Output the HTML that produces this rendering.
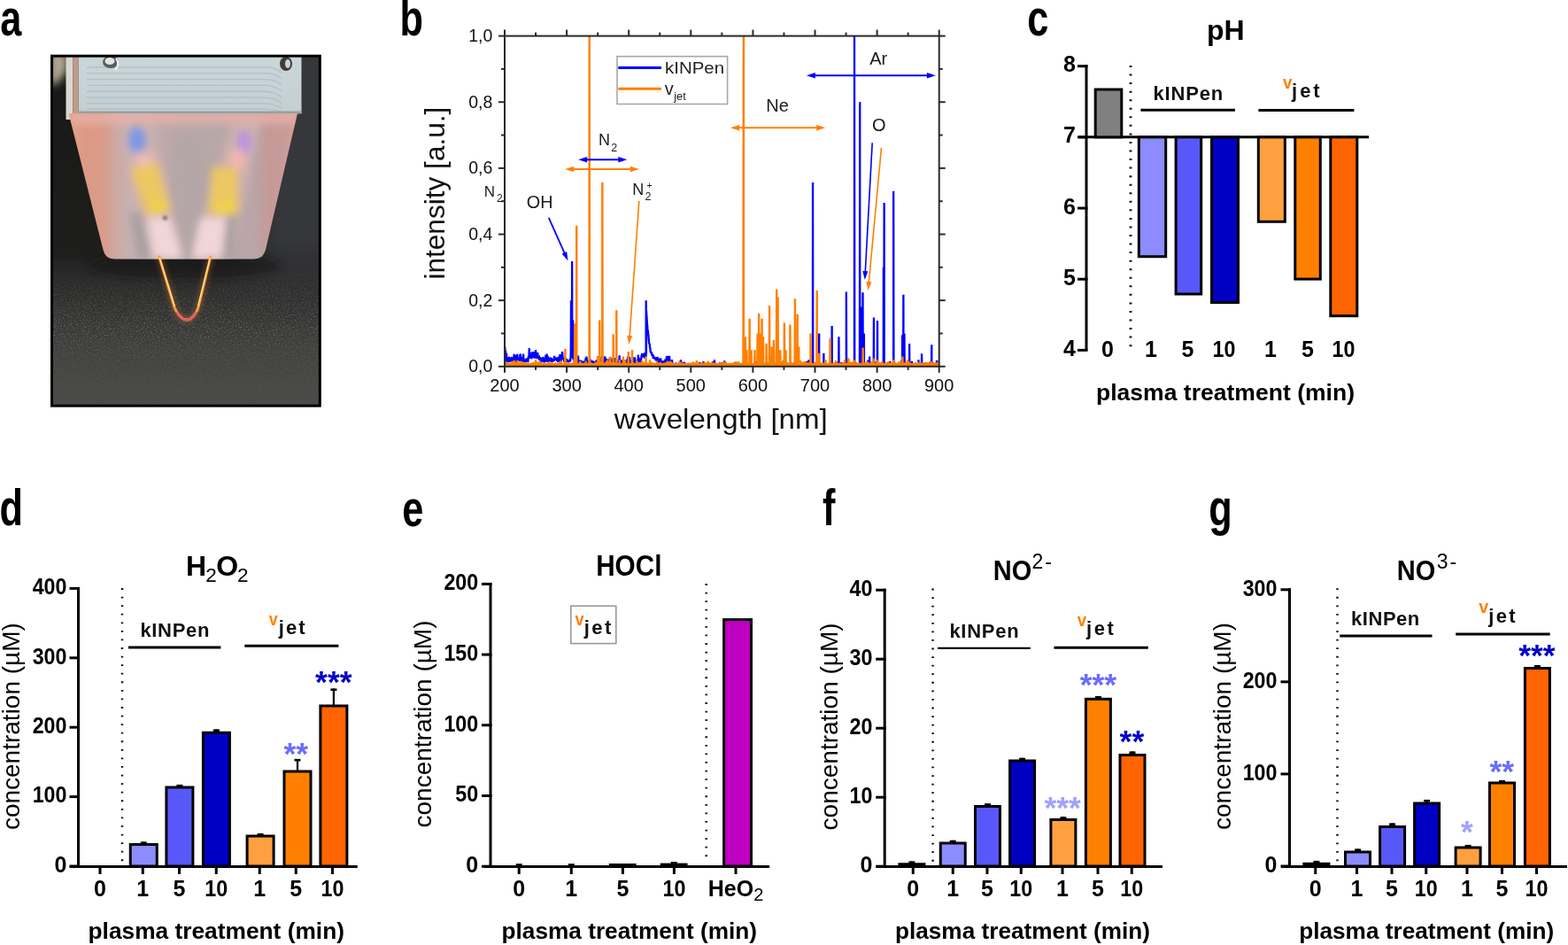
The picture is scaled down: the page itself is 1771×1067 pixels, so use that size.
<!DOCTYPE html>
<html><head><meta charset="utf-8"><title>Figure</title>
<style>html,body{margin:0;padding:0;background:#fff;}svg{display:block;}</style></head>
<body><svg width="1771" height="1067" viewBox="0 0 1771 1067" style="font-family:'Liberation Sans', Arial, sans-serif">
<rect width="1771" height="1067" fill="#fff"/>
<text transform="translate(0.20,40.00) scale(0.76,1)" font-size="57" font-weight="bold">a</text>
<text transform="translate(451.50,40.00) scale(0.76,1)" font-size="57" font-weight="bold">b</text>
<text transform="translate(1160.30,40.00) scale(0.76,1)" font-size="57" font-weight="bold">c</text>
<text transform="translate(-0.50,593.00) scale(0.76,1)" font-size="57" font-weight="bold">d</text>
<text transform="translate(454.20,593.50) scale(0.76,1)" font-size="57" font-weight="bold">e</text>
<text transform="translate(929.00,593.00) scale(0.76,1)" font-size="57" font-weight="bold">f</text>
<text transform="translate(1365.30,593.00) scale(0.76,1)" font-size="57" font-weight="bold">g</text>
<defs>
<clipPath id="phclip"><rect x="59.5" y="64" width="301.5" height="394"/></clipPath>
<clipPath id="trapclip"><path d="M77.5,128 L336,128 L300,282 Q297,292.5 287,292.5 L129,292.5 Q119,292.5 116.5,282 Z"/></clipPath>
<linearGradient id="phbg" x1="0" y1="64" x2="0" y2="458" gradientUnits="userSpaceOnUse">
<stop offset="0" stop-color="#171715"/><stop offset="0.57" stop-color="#1e1e1c"/><stop offset="0.6" stop-color="#262626"/><stop offset="0.68" stop-color="#2d2d2c"/><stop offset="0.75" stop-color="#353533"/><stop offset="0.85" stop-color="#41413f"/><stop offset="0.95" stop-color="#494946"/><stop offset="1" stop-color="#4a4a47"/>
</linearGradient>
<linearGradient id="trap" x1="77" y1="0" x2="336" y2="0" gradientUnits="userSpaceOnUse">
<stop offset="0" stop-color="#e8a088"/><stop offset="0.07" stop-color="#dc9a84"/><stop offset="0.158" stop-color="#d89c88"/><stop offset="0.205" stop-color="#cea8a2"/><stop offset="0.263" stop-color="#c8b0b2"/><stop offset="0.475" stop-color="#b9a8a9"/><stop offset="0.61" stop-color="#b9a8a9"/><stop offset="0.80" stop-color="#b8a6a8"/><stop offset="0.88" stop-color="#c49a98"/><stop offset="0.946" stop-color="#c89c98"/><stop offset="1" stop-color="#d6a092"/>
</linearGradient>
<linearGradient id="blk" x1="0" y1="0" x2="0" y2="1">
<stop offset="0" stop-color="#cad6da"/><stop offset="1" stop-color="#c2cfd3"/>
</linearGradient>
<linearGradient id="noisefade" x1="0" y1="300" x2="0" y2="458" gradientUnits="userSpaceOnUse">
<stop offset="0" stop-color="#fff" stop-opacity="0"/><stop offset="0.2" stop-color="#fff" stop-opacity="0.6"/><stop offset="0.45" stop-color="#fff" stop-opacity="1"/><stop offset="0.7" stop-color="#fff" stop-opacity="0.4"/><stop offset="1" stop-color="#fff" stop-opacity="0.1"/>
</linearGradient>
<linearGradient id="rside" x1="59" y1="0" x2="361" y2="0" gradientUnits="userSpaceOnUse">
<stop offset="0" stop-color="#36373b" stop-opacity="0"/><stop offset="0.62" stop-color="#36373b" stop-opacity="0"/><stop offset="0.85" stop-color="#36373b" stop-opacity="1"/><stop offset="1" stop-color="#36373b" stop-opacity="1"/>
</linearGradient>
<linearGradient id="rfade" x1="0" y1="64" x2="0" y2="360" gradientUnits="userSpaceOnUse">
<stop offset="0" stop-color="#fff" stop-opacity="1"/><stop offset="0.7" stop-color="#fff" stop-opacity="1"/><stop offset="1" stop-color="#fff" stop-opacity="0"/>
</linearGradient>
<mask id="rmask"><rect x="59" y="64" width="302" height="296" fill="url(#rfade)"/></mask>
<mask id="nmask"><rect x="59" y="300" width="302" height="158" fill="url(#noisefade)"/></mask>
<filter id="bl6" x="-50%" y="-50%" width="200%" height="200%"><feGaussianBlur stdDeviation="5"/></filter>
<filter id="bl4" x="-50%" y="-50%" width="200%" height="200%"><feGaussianBlur stdDeviation="5"/></filter>
<filter id="bl3" x="-50%" y="-50%" width="200%" height="200%"><feGaussianBlur stdDeviation="3"/></filter>
<filter id="bl2" x="-50%" y="-50%" width="200%" height="200%"><feGaussianBlur stdDeviation="1.6"/></filter>
<filter id="noise" x="0" y="0" width="100%" height="100%"><feTurbulence type="fractalNoise" baseFrequency="0.65" numOctaves="2" seed="3"/><feColorMatrix type="matrix" values="0 0 0 0 0.62  0 0 0 0 0.62  0 0 0 0 0.6  0 0 0 2.2 -1.05"/></filter>
</defs>
<g clip-path="url(#phclip)">
<rect x="59.5" y="64" width="301.5" height="394" fill="url(#phbg)"/>
<rect x="59.5" y="64" width="301.5" height="296" fill="url(#rside)" mask="url(#rmask)"/>
<g mask="url(#nmask)"><rect x="59.5" y="300" width="301.5" height="158" filter="url(#noise)" opacity="0.4"/></g>
<ellipse cx="208" cy="300" rx="110" ry="14" fill="#141414" opacity="0.6" filter="url(#bl6)"/>
<!-- top-left light -->
<path d="M56,58 L76,58 L76,80 L64,95 L56,95 Z" fill="#b0a690" filter="url(#bl4)"/>
<rect x="74.5" y="64" width="8" height="71" fill="#d5d9d2"/>
<rect x="82.5" y="64" width="6" height="66" fill="#c39a88"/>
<!-- grey block -->
<rect x="88.5" y="64" width="252" height="64" fill="url(#blk)"/>
<g stroke="#b3c0c5" stroke-width="1.4" fill="none">
<path d="M98,76 L300,76 Q312,76 318,82"/><path d="M98,82.8 L300,82.8 Q312,83 318,89"/><path d="M98,89.6 L300,89.6 Q312,90 318,96"/>
<path d="M98,96.4 L300,96.4 Q312,97 318,103"/><path d="M98,103.2 L300,103.2 Q312,104 318,110"/><path d="M98,110 L300,110 Q312,111 318,117"/>
<path d="M98,116.8 L300,116.8 Q312,118 318,123"/><path d="M98,123 L300,123 Q312,124 318,127"/>
</g>
<rect x="88.5" y="125.5" width="252" height="3" fill="#9aa09d"/>
<ellipse cx="125" cy="70" rx="9" ry="7" fill="#5a5d5a"/><ellipse cx="124" cy="69" rx="5.5" ry="4" fill="#e4e6e3"/><path d="M131,66 Q136,72 130,79" stroke="#f4f4f2" stroke-width="2" fill="none"/>
<ellipse cx="323" cy="72" rx="7" ry="8" fill="#3c3e3c"/><ellipse cx="325" cy="72" rx="3" ry="5" fill="#d0d2d0"/>
<!-- trapezoid -->
<path d="M77.5,128 L336,128 L300,282 Q297,292.5 287,292.5 L129,292.5 Q119,292.5 116.5,282 Z" fill="url(#trap)"/>
<g clip-path="url(#trapclip)">
<g filter="url(#bl6)">
<rect x="80" y="126" width="256" height="14" fill="#eab2aa" opacity="0.8"/>
<path d="M196,150 L232,150 L234,292 L198,292 Z" fill="#b3a5a7" opacity="0.75"/>
<path d="M138,140 L172,140 L207,292 L158,292 Z" fill="#cfb3b0" opacity="0.9"/>
<path d="M262,140 L294,140 L262,292 L216,292 Z" fill="#cfb3b0" opacity="0.9"/>
<path d="M146,240 L160,240 L172,292 L156,292 Z" fill="#a7a0a2"/>
<path d="M256,240 L268,240 L262,292 L250,292 Z" fill="#a7a0a2"/>
</g>
<g filter="url(#bl4)">
<ellipse cx="155" cy="158" rx="10" ry="15" fill="#7b97e6"/>
<ellipse cx="163" cy="182" rx="10" ry="10" fill="#f0bcb2"/>
<path d="M147,190 L178,184 L192,238 L166,244 Z" fill="#ecc860"/>
<ellipse cx="181" cy="234" rx="9" ry="7" fill="#f3d240"/>
<path d="M166,246 L192,246 L206,292 L174,292 Z" fill="#f0d6d8"/>
<ellipse cx="276" cy="160" rx="8" ry="13" fill="#b594e2"/>
<ellipse cx="268" cy="180" rx="9" ry="12" fill="#f2b6ac"/>
<path d="M240,188 L268,190 L269,242 L235,243 Z" fill="#ecc860"/>
<ellipse cx="254" cy="235" rx="10" ry="7" fill="#f3d240"/>
<path d="M226,246 L255,246 L250,292 L217,292 Z" fill="#f0d6d8"/>
</g>
<circle cx="186.5" cy="246" r="2.5" fill="#7d6a50" filter="url(#bl2)"/>
</g>
<!-- flame -->
<path d="M179.5,289 L197,347 Q203,361 211,361 Q219,361 224,347 L238,289" fill="none" stroke="#ff8a30" stroke-width="5" opacity="0.4" filter="url(#bl3)"/>
<path d="M179.5,289 L197,347 Q203,361 211,361 Q219,361 224,347 L238,289" fill="none" stroke="#ffa040" stroke-width="2.8"/>
<path d="M180.2,291 L197.5,346" fill="none" stroke="#fff3b0" stroke-width="1"/>
<path d="M237.3,291 L223.5,346" fill="none" stroke="#fff3b0" stroke-width="1"/>
<path d="M199,352 Q204,361 211,361 Q218,361 222,352" fill="none" stroke="#e8507a" stroke-width="2.2"/>
</g>
<rect x="58.5" y="63.2" width="302.8" height="395" fill="none" stroke="#000" stroke-width="3"/>

<defs><clipPath id="bclip"><rect x="570.0" y="39.6" width="490.7" height="374.2"/></clipPath></defs>
<g clip-path="url(#bclip)">
<polyline points="570.00,391.24 570.32,393.04 570.63,397.06 570.95,396.19 571.26,400.46 571.58,401.60 571.83,402.08 571.89,403.59 572.10,398.87 572.21,408.42 572.38,406.80 572.52,404.14 572.84,404.90 573.15,408.94 573.47,405.79 573.79,409.14 574.10,406.50 574.42,404.07 574.73,403.82 575.05,404.54 575.36,403.74 575.68,408.74 575.99,408.03 576.31,406.72 576.62,407.52 576.94,407.02 577.26,405.83 577.57,403.92 577.89,403.77 578.20,403.40 578.52,408.35 578.83,403.56 579.15,405.92 579.46,408.06 579.78,405.90 580.09,408.94 580.41,403.41 580.73,399.72 581.04,407.57 581.36,404.11 581.64,404.13 581.67,402.47 581.92,400.74 581.99,407.35 582.19,409.10 582.30,403.47 582.62,403.36 582.93,408.86 583.25,409.13 583.56,406.89 583.88,408.39 584.20,399.75 584.51,403.97 584.83,406.57 585.14,405.48 585.46,405.98 585.77,403.70 586.09,406.75 586.40,407.90 586.72,403.48 587.03,406.05 587.35,401.26 587.67,399.83 587.98,400.50 588.30,407.22 588.61,404.91 588.93,402.95 589.24,407.82 589.56,405.78 589.87,407.15 590.19,407.12 590.50,407.53 590.76,405.98 590.82,404.71 591.03,402.60 591.14,399.64 591.30,403.44 591.45,407.99 591.77,407.90 592.08,406.72 592.40,408.71 592.71,407.33 593.03,406.70 593.34,408.31 593.66,405.44 593.97,406.63 594.29,408.60 594.61,408.18 594.92,404.31 595.24,407.66 595.55,405.49 595.87,407.26 596.18,407.58 596.50,407.70 596.81,403.10 597.13,403.14 597.44,404.66 597.76,393.03 598.08,403.00 598.39,400.05 598.71,401.14 599.02,401.63 599.34,403.86 599.65,404.23 599.97,397.80 600.28,405.32 600.60,401.45 600.91,400.24 601.23,402.14 601.54,397.38 601.86,401.63 602.18,403.12 602.49,401.93 602.58,399.71 602.81,404.08 602.95,397.01 603.12,402.74 603.31,400.02 603.44,403.49 603.75,402.40 604.07,404.57 604.38,400.09 604.70,400.67 605.01,394.99 605.33,399.78 605.65,403.06 605.96,400.95 606.28,401.71 606.59,405.18 606.91,400.49 607.22,398.19 607.54,403.49 607.85,402.09 608.17,404.45 608.48,404.85 608.80,401.31 609.12,405.11 609.43,407.09 609.75,404.65 610.06,404.54 610.38,406.74 610.69,406.36 611.01,406.81 611.32,406.57 611.64,406.12 611.95,408.89 612.27,406.78 612.59,403.73 612.90,403.96 613.22,407.76 613.53,408.59 613.85,405.37 614.16,404.59 614.48,404.94 614.79,408.71 615.11,409.29 615.42,404.70 615.74,405.34 616.06,408.25 616.37,400.77 616.69,405.30 617.00,403.63 617.32,404.55 617.63,399.46 617.95,408.68 618.26,403.74 618.58,401.87 618.89,407.88 619.21,407.83 619.53,404.82 619.84,407.13 620.16,407.23 620.47,408.82 620.79,403.51 621.10,404.86 621.42,405.20 621.73,405.30 622.05,406.43 622.36,403.96 622.68,408.75 623.00,403.85 623.31,406.68 623.63,408.21 623.94,408.13 624.26,407.44 624.57,405.19 624.89,407.55 625.20,406.85 625.52,405.83 625.83,408.02 626.15,401.76 626.47,407.17 626.78,404.70 627.10,403.40 627.41,405.74 627.73,404.34 628.04,405.99 628.36,405.02 628.67,406.93 628.99,403.59 629.30,407.95 629.62,405.04 629.94,403.60 630.25,407.88 630.57,407.78 630.88,405.11 631.20,403.95 631.51,404.16 631.83,406.79 632.14,408.81 632.46,400.05 632.77,405.86 632.82,405.83 633.09,409.28 633.09,400.74 633.36,408.68 633.41,406.72 633.72,408.07 634.04,403.62 634.35,406.07 634.67,401.72 634.98,396.97 635.30,399.04 635.61,404.80 635.93,405.29 636.24,404.51 636.56,404.82 636.88,405.30 637.19,408.65 637.51,407.22 637.82,405.27 638.14,408.23 638.45,405.55 638.77,404.01 639.08,408.59 639.40,408.48 639.71,405.02 640.03,406.01 640.35,407.61 640.66,408.66 640.98,406.65 641.29,407.29 641.61,407.98 641.92,407.89 642.24,409.16 642.55,408.40 642.87,408.00 643.18,407.82 643.50,406.44 643.82,406.16 644.13,408.31 644.45,404.23 644.64,400.35 644.76,392.76 645.01,339.16 645.08,402.81 645.37,394.66 645.39,392.47 645.67,403.87 645.71,392.37 646.02,403.60 646.13,295.12 646.34,402.72 646.58,400.93 646.65,395.73 646.75,398.49 646.97,401.67 647.11,361.55 647.29,405.77 647.47,400.31 647.60,389.71 647.92,399.19 648.23,395.46 648.55,406.46 648.86,410.00 649.18,409.03 649.29,408.40 649.49,407.76 649.56,395.14 649.81,401.59 649.84,410.94 650.12,408.82 650.44,410.55 650.76,411.37 651.07,408.19 651.39,408.60 651.70,406.90 652.02,407.42 652.33,411.30 652.65,410.34 652.96,401.60 653.28,407.01 653.59,410.86 653.91,408.42 654.23,407.82 654.54,409.77 654.86,406.69 655.17,409.28 655.49,409.03 655.80,411.34 656.12,406.81 656.43,407.91 656.75,409.36 657.06,409.97 657.38,407.61 657.70,410.62 658.01,407.80 658.33,409.62 658.64,408.44 658.96,411.55 659.27,407.47 659.59,409.16 659.90,410.47 660.22,409.45 660.53,411.42 660.85,410.68 661.17,411.25 661.48,404.41 661.80,411.29 662.11,409.49 662.43,402.55 662.74,405.36 663.06,409.75 663.37,411.29 663.69,410.12 664.00,409.13 664.32,409.99 664.63,410.17 664.95,408.27 665.27,411.07 665.58,406.50 665.90,411.54 666.21,407.34 666.53,405.36 666.84,410.51 667.16,409.07 667.47,406.77 667.79,411.38 668.10,408.39 668.42,411.10 668.74,407.12 669.05,409.52 669.37,408.01 669.68,410.65 670.00,407.73 670.31,408.67 670.63,409.67 670.94,410.36 671.26,409.05 671.57,410.67 671.89,408.40 672.21,409.54 672.52,410.76 672.84,411.44 673.15,407.60 673.47,411.05 673.78,407.15 674.10,406.97 674.41,409.21 674.73,407.73 675.04,409.63 675.36,402.21 675.68,408.59 675.99,411.14 676.31,410.30 676.62,404.89 676.94,411.50 677.25,406.51 677.57,408.62 677.88,407.48 678.20,407.44 678.51,410.58 678.83,411.15 679.15,410.97 679.46,402.63 679.78,411.11 680.09,410.40 680.41,408.35 680.72,407.58 681.04,409.75 681.35,409.23 681.67,407.20 681.98,407.30 682.30,408.74 682.62,407.76 682.93,404.60 683.25,402.39 683.56,408.17 683.88,410.44 684.19,406.36 684.51,409.31 684.82,406.70 685.14,407.77 685.45,406.41 685.77,406.69 686.09,409.37 686.40,406.84 686.72,409.03 687.03,409.43 687.35,406.75 687.66,406.68 687.98,411.06 688.29,410.02 688.61,408.22 688.92,403.45 689.24,409.76 689.56,407.66 689.87,411.02 690.19,409.41 690.50,404.36 690.82,406.46 691.13,406.98 691.45,410.72 691.76,409.14 692.08,408.73 692.39,407.11 692.71,409.14 693.03,407.34 693.34,410.29 693.66,411.51 693.97,408.79 694.29,410.69 694.60,404.06 694.92,406.44 695.23,406.44 695.55,407.55 695.86,409.79 696.18,405.30 696.50,410.27 696.81,409.38 697.13,411.33 697.44,408.28 697.76,406.79 698.07,410.27 698.39,407.60 698.70,408.90 699.02,408.68 699.33,410.68 699.65,401.20 699.97,409.12 700.28,406.71 700.60,408.41 700.91,408.85 701.23,410.60 701.54,406.38 701.86,409.43 702.17,409.18 702.49,409.20 702.80,410.75 703.12,408.83 703.44,407.11 703.75,406.69 704.07,411.40 704.38,408.69 704.70,410.10 705.01,406.80 705.33,408.07 705.64,408.87 705.96,406.54 706.27,410.54 706.59,410.61 706.91,407.23 707.22,410.15 707.54,406.63 707.85,409.51 708.17,410.87 708.48,406.44 708.80,406.48 709.11,402.50 709.43,408.26 709.74,411.53 710.06,406.54 710.38,405.01 710.69,408.71 711.01,403.05 711.32,406.83 711.64,406.37 711.95,408.18 712.27,411.28 712.58,410.64 712.90,407.26 713.21,411.31 713.53,408.77 713.85,411.00 714.16,406.40 714.48,410.87 714.79,410.90 715.11,406.78 715.42,403.37 715.74,406.44 716.05,409.71 716.37,409.03 716.68,409.92 717.00,403.42 717.32,408.59 717.63,408.75 717.95,408.77 718.26,410.51 718.58,406.69 718.89,410.62 719.21,407.17 719.52,410.17 719.84,411.28 720.15,409.42 720.47,410.96 720.79,400.47 721.10,407.98 721.42,407.56 721.73,403.78 722.05,408.42 722.36,408.92 722.68,409.90 722.99,408.42 723.31,406.67 723.62,407.20 723.94,406.46 724.26,405.42 724.57,400.87 724.89,401.52 725.20,399.12 725.52,402.77 725.83,399.81 726.15,402.39 726.46,401.72 726.78,403.16 727.09,400.53 727.41,399.96 727.72,399.01 728.04,404.73 728.36,399.74 728.67,399.86 728.99,403.64 729.30,402.56 729.32,401.02 729.62,403.56 729.69,339.16 729.93,399.80 730.05,350.98 730.25,354.78 730.56,358.97 730.88,364.71 731.19,368.16 731.51,373.31 731.83,372.81 732.14,376.78 732.46,379.19 732.77,383.54 733.09,387.32 733.40,388.28 733.72,387.90 734.03,392.76 734.35,392.50 734.66,396.47 734.98,397.84 735.30,398.22 735.61,398.35 735.93,399.10 736.24,398.94 736.56,402.24 736.87,400.28 737.19,402.04 737.50,400.15 737.82,405.07 738.13,403.69 738.45,402.31 738.77,404.52 739.08,402.79 739.40,405.31 739.71,404.48 740.03,403.42 740.34,405.27 740.66,407.01 740.97,404.41 741.29,407.14 741.60,405.61 741.92,407.81 742.24,404.82 742.55,403.02 742.87,407.54 743.18,407.08 743.50,410.50 743.81,404.92 744.13,407.01 744.44,407.26 744.76,410.94 745.07,409.49 745.39,410.59 745.71,404.25 746.02,407.21 746.34,404.74 746.65,410.25 746.97,407.93 747.28,410.98 747.60,409.25 747.91,410.28 748.23,410.44 748.54,408.38 748.86,407.64 749.18,408.74 749.49,408.28 749.81,411.27 750.12,407.07 750.44,408.54 750.75,406.87 751.07,410.40 751.38,406.41 751.70,406.36 752.01,410.63 752.33,409.79 752.65,408.51 752.96,402.01 753.28,408.74 753.59,409.23 753.91,408.52 754.09,407.19 754.22,410.50 754.36,402.60 754.54,402.12 754.64,410.60 754.85,406.90 755.17,408.73 755.48,407.19 755.80,410.04 756.12,401.74 756.43,409.06 756.75,410.26 757.06,408.62 757.38,410.99 757.69,409.89 758.01,410.66 758.32,410.54 758.64,408.55 758.95,406.13 759.27,408.92 759.59,412.79 759.90,410.64 760.22,411.71 760.53,412.88 760.85,412.23 761.16,412.75 761.48,411.81 761.79,412.37 762.11,412.57 762.42,411.72 762.74,412.47 763.06,410.99 763.37,410.69 763.69,411.22 764.00,412.46 764.32,410.51 764.63,411.06 764.95,411.31 765.26,411.72 765.58,410.78 765.89,411.74 766.21,411.94 766.53,412.38 766.84,411.52 767.16,412.93 767.47,411.38 767.79,411.07 768.10,410.56 768.42,411.15 768.73,412.94 768.81,406.87 769.05,411.11 769.08,406.34 769.36,411.12 769.36,412.52 769.68,410.49 770.00,411.79 770.31,412.66 770.63,411.31 770.94,412.63 771.26,411.42 771.57,412.69 771.89,409.00 772.20,411.86 772.52,411.46 772.83,411.22 773.15,408.74 773.47,412.97 773.78,412.20 774.10,412.79 774.41,412.04 774.73,411.89 775.04,412.20 775.36,411.87 775.67,412.15 775.99,411.97 776.30,412.23 776.62,411.63 776.94,412.30 777.25,410.48 777.57,411.57 777.88,411.06 778.20,411.32 778.51,411.69 778.83,412.25 779.14,410.98 779.46,412.79 779.77,411.53 780.09,411.91 780.41,410.44 780.72,412.10 781.04,412.73 781.35,411.80 781.67,410.64 781.98,413.02 782.30,413.04 782.61,410.78 782.93,412.93 783.24,412.26 783.56,412.27 783.88,412.71 784.19,412.82 784.51,412.94 784.82,412.55 785.14,411.11 785.45,411.04 785.77,411.41 786.08,411.29 786.40,410.54 786.71,409.36 787.03,411.95 787.35,411.59 787.66,411.84 787.98,412.98 788.29,411.13 788.61,411.82 788.92,412.12 789.24,411.11 789.55,411.81 789.87,412.17 790.18,409.19 790.50,412.42 790.81,412.80 791.13,411.74 791.45,410.75 791.76,412.16 792.08,412.95 792.39,411.09 792.71,411.16 793.02,412.48 793.34,412.54 793.65,411.38 793.97,412.78 794.05,411.41 794.28,411.80 794.32,408.20 794.59,411.31 794.60,411.74 794.92,412.53 795.23,411.37 795.55,410.66 795.86,410.73 796.18,411.19 796.49,412.69 796.81,410.70 797.12,411.50 797.44,412.29 797.75,410.69 798.07,412.67 798.39,410.89 798.70,412.23 799.02,410.63 799.33,413.01 799.65,412.23 799.96,410.50 800.28,412.83 800.59,412.42 800.91,410.60 801.22,410.70 801.54,412.26 801.86,411.64 802.17,412.01 802.49,412.27 802.80,410.61 803.12,410.91 803.43,412.40 803.75,412.65 804.06,410.69 804.38,411.60 804.69,411.94 805.01,408.40 805.33,410.58 805.64,410.64 805.96,411.32 806.27,410.71 806.59,412.15 806.66,412.05 806.90,411.50 806.94,406.34 807.21,411.13 807.22,412.73 807.53,412.99 807.85,412.16 808.16,412.20 808.48,412.23 808.80,411.99 809.11,412.29 809.43,411.02 809.74,411.05 810.06,412.74 810.37,410.84 810.69,412.05 811.00,410.84 811.32,412.11 811.63,413.03 811.95,411.80 812.27,411.87 812.58,411.18 812.90,410.49 813.21,410.79 813.53,410.98 813.84,412.85 814.16,410.86 814.47,410.76 814.79,412.91 815.10,412.77 815.42,411.87 815.74,410.97 816.05,411.29 816.37,411.62 816.68,410.73 817.00,412.83 817.31,412.32 817.63,412.98 817.94,411.18 818.26,407.43 818.57,411.21 818.89,411.43 819.21,411.23 819.52,409.46 819.84,412.49 820.15,412.72 820.47,411.89 820.78,411.31 821.10,411.15 821.41,410.81 821.73,412.44 822.04,410.70 822.36,412.04 822.68,411.23 822.99,412.18 823.31,411.02 823.62,412.86 823.94,411.15 824.25,412.00 824.57,411.93 824.88,412.79 825.20,411.48 825.51,410.58 825.83,411.86 826.15,411.48 826.46,411.76 826.78,411.77 827.09,412.55 827.41,412.27 827.72,412.86 828.04,411.90 828.35,412.52 828.67,412.71 828.98,411.55 829.30,410.50 829.62,411.86 829.93,412.30 830.25,410.93 830.56,413.05 830.88,411.78 831.19,408.55 831.51,411.42 831.82,411.76 832.14,411.70 832.45,412.89 832.77,412.10 833.09,412.15 833.40,410.99 833.72,410.83 834.03,412.43 834.35,411.40 834.66,411.09 834.98,410.45 835.29,412.31 835.61,410.80 835.92,411.54 836.24,411.93 836.56,412.90 836.87,410.86 837.19,411.23 837.50,410.51 837.82,412.26 838.13,412.58 838.45,412.80 838.76,412.02 839.08,411.07 839.39,410.85 839.71,409.77 840.03,411.30 840.34,411.12 840.66,411.24 840.97,411.73 841.29,410.92 841.60,412.13 841.92,412.46 842.23,413.05 842.55,411.78 842.86,411.56 843.18,410.54 843.50,411.52 843.81,410.75 844.13,410.89 844.44,410.47 844.76,412.03 845.07,411.35 845.39,411.08 845.70,410.90 846.02,412.26 846.33,411.32 846.65,411.59 846.97,411.37 847.28,412.31 847.60,410.74 847.91,412.33 848.23,411.14 848.54,411.35 848.86,411.17 849.17,412.08 849.49,411.88 849.80,411.09 850.12,412.76 850.44,410.58 850.75,411.54 851.07,412.97 851.38,411.43 851.70,412.24 852.01,412.73 852.33,412.38 852.64,410.95 852.96,411.08 853.27,411.69 853.59,410.81 853.91,411.07 854.22,410.91 854.54,408.63 854.85,407.81 855.17,412.23 855.48,412.13 855.80,412.01 856.11,410.52 856.43,412.39 856.74,412.75 857.06,410.81 857.37,412.14 857.69,410.90 858.01,411.42 858.32,411.99 858.64,410.51 858.95,410.38 859.27,412.53 859.58,411.05 859.90,410.50 860.21,410.71 860.53,412.51 860.84,411.97 861.16,412.93 861.48,411.59 861.79,410.88 862.11,411.89 862.42,412.14 862.74,411.75 863.05,412.44 863.37,412.33 863.68,412.90 864.00,411.43 864.31,412.13 864.63,412.60 864.95,412.99 865.26,411.01 865.58,410.82 865.89,411.60 866.21,411.23 866.52,411.94 866.84,410.58 867.15,412.74 867.47,411.55 867.78,410.72 868.10,410.74 868.42,412.35 868.73,410.96 869.05,410.97 869.36,411.48 869.68,412.44 869.99,411.11 870.31,410.63 870.62,408.32 870.94,410.92 871.25,411.83 871.57,412.29 871.89,412.77 872.20,411.51 872.52,410.59 872.83,412.88 873.15,412.98 873.46,411.20 873.78,411.40 874.09,410.91 874.41,412.05 874.72,412.65 875.04,412.52 875.36,412.22 875.67,411.63 875.99,412.65 876.30,411.25 876.62,411.30 876.93,412.04 877.25,411.45 877.56,411.68 877.88,411.27 878.19,411.70 878.51,411.84 878.83,410.68 879.14,410.93 879.46,411.22 879.77,410.60 880.09,408.20 880.40,411.21 880.72,412.01 881.03,411.59 881.35,411.66 881.66,412.26 881.98,411.47 882.30,410.76 882.61,410.53 882.93,412.37 883.24,412.80 883.56,410.86 883.87,410.79 884.19,412.77 884.50,411.76 884.82,412.27 885.13,411.53 885.45,411.00 885.77,411.51 886.08,412.94 886.40,411.70 886.71,412.07 887.03,411.01 887.34,413.04 887.66,411.98 887.97,412.59 888.29,412.59 888.60,411.29 888.92,411.35 889.24,410.98 889.55,411.42 889.87,411.38 890.18,411.52 890.50,411.09 890.81,411.19 891.13,412.96 891.44,410.48 891.76,410.92 892.07,412.87 892.39,413.03 892.71,412.26 893.02,410.71 893.34,412.00 893.65,411.07 893.97,412.86 894.28,410.81 894.60,412.21 894.91,411.61 895.23,410.58 895.54,411.81 895.86,412.42 896.18,410.87 896.49,410.72 896.81,412.08 897.12,412.79 897.44,411.90 897.75,412.59 898.07,410.77 898.38,411.60 898.70,411.69 899.01,412.02 899.33,410.91 899.65,411.58 899.96,410.67 900.28,412.61 900.59,410.88 900.91,412.77 901.22,412.65 901.54,410.47 901.85,411.08 902.17,410.83 902.48,413.03 902.80,410.62 903.12,407.68 903.43,412.26 903.75,411.90 904.06,410.82 904.38,411.21 904.69,411.26 905.01,411.79 905.32,412.26 905.64,410.67 905.95,412.78 906.27,411.72 906.59,412.17 906.90,412.19 907.22,412.34 907.53,412.26 907.85,412.59 908.16,412.72 908.48,411.69 908.79,411.65 909.11,412.24 909.42,410.71 909.74,411.97 910.06,411.56 910.37,410.45 910.69,412.70 911.00,407.85 911.32,412.31 911.63,412.85 911.95,409.56 912.26,412.68 912.58,410.83 912.89,412.34 913.21,411.22 913.22,412.29 913.49,406.34 913.53,409.81 913.76,412.39 913.84,412.34 914.16,412.39 914.47,412.13 914.79,412.85 915.10,412.49 915.42,411.97 915.73,410.55 916.05,411.05 916.36,412.20 916.68,412.38 917.00,412.50 917.31,411.10 917.63,411.89 917.64,412.12 917.94,411.45 918.05,205.93 918.26,412.99 918.46,408.06 918.57,411.84 918.89,410.55 919.20,412.14 919.52,409.11 919.83,412.80 920.15,412.39 920.46,411.67 920.78,410.90 921.10,412.83 921.41,412.92 921.73,410.68 922.04,411.35 922.36,412.43 922.67,412.08 922.99,413.00 923.30,411.94 923.62,410.89 923.93,411.48 924.25,411.87 924.57,412.92 924.83,411.10 924.88,411.74 925.20,376.48 925.20,412.40 925.51,412.14 925.56,410.84 925.83,412.31 926.14,412.01 926.46,412.21 926.77,411.74 927.09,412.82 927.40,412.25 927.72,410.60 928.04,411.23 928.35,412.76 928.67,410.68 928.98,411.39 929.30,411.60 929.61,411.35 929.93,410.82 930.04,410.90 930.24,412.51 930.31,398.87 930.56,411.51 930.59,412.05 930.87,410.81 931.19,411.26 931.51,411.24 931.82,410.94 932.14,410.69 932.45,412.33 932.77,411.49 933.08,411.23 933.40,410.77 933.71,411.90 934.03,411.47 934.34,412.29 934.66,412.97 934.98,410.90 935.29,412.83 935.61,412.08 935.92,411.52 936.24,412.22 936.55,413.05 936.87,412.24 937.18,412.26 937.50,412.07 937.81,412.22 938.13,411.02 938.45,411.08 938.76,412.43 939.08,410.62 939.23,411.76 939.39,412.71 939.64,367.90 939.71,410.62 940.02,411.01 940.05,412.49 940.34,411.00 940.65,411.82 940.97,411.35 941.28,412.29 941.60,410.55 941.92,411.11 942.23,411.10 942.55,412.05 942.86,410.83 943.18,410.91 943.49,411.06 943.81,411.93 944.12,410.70 944.44,411.51 944.75,412.41 945.07,412.12 945.39,411.51 945.70,412.87 946.02,412.85 946.33,411.40 946.65,410.93 946.96,408.21 947.01,412.86 947.28,412.00 947.42,380.21 947.59,412.26 947.83,412.59 947.91,412.40 948.22,411.86 948.54,412.13 948.86,412.08 949.17,410.85 949.49,410.96 949.80,410.78 950.12,411.67 950.43,409.08 950.75,411.16 951.06,411.64 951.38,411.49 951.69,412.52 952.01,410.83 952.33,412.14 952.64,411.14 952.96,410.76 953.27,411.11 953.59,412.07 953.90,412.05 954.22,413.05 954.53,411.09 954.85,410.45 955.16,411.14 955.42,410.85 955.48,411.53 955.80,412.14 955.83,329.46 956.11,411.91 956.24,410.82 956.43,411.31 956.74,412.57 957.06,411.09 957.37,411.76 957.69,412.28 958.00,411.63 958.32,412.80 958.63,412.08 958.95,411.04 959.27,412.50 959.58,410.49 959.90,411.53 960.21,411.01 960.53,410.87 960.84,410.89 961.16,411.55 961.47,409.12 961.79,410.66 962.10,411.23 962.42,411.68 962.74,410.66 963.05,412.36 963.37,410.50 963.68,412.87 964.00,411.14 964.31,411.21 964.56,412.87 964.63,410.94 964.94,407.38 965.01,40.60 965.26,410.80 965.47,412.26 965.57,411.45 965.89,411.63 966.21,412.31 966.52,412.17 966.84,410.77 967.15,410.99 967.47,411.73 967.78,412.53 968.10,411.65 968.41,412.86 968.73,412.79 969.04,412.98 969.36,412.68 969.68,412.11 969.99,411.90 970.31,410.86 970.62,411.71 970.84,411.98 970.94,410.46 971.25,115.24 971.25,412.92 971.57,410.57 971.66,411.64 971.88,412.09 972.20,412.35 972.51,412.58 972.83,412.36 973.11,411.02 973.15,411.24 973.43,346.62 973.46,411.70 973.74,412.62 973.78,412.35 974.09,411.41 974.16,412.81 974.41,412.31 974.48,330.20 974.72,411.73 974.80,412.59 975.04,411.78 975.35,412.53 975.61,411.51 975.67,411.82 975.88,376.48 975.98,411.87 976.15,410.72 976.30,412.07 976.62,410.48 976.93,412.48 977.25,410.57 977.56,412.82 977.88,410.55 978.19,411.92 978.51,410.74 978.82,411.26 979.14,411.57 979.45,412.59 979.77,412.66 980.09,412.93 980.40,406.68 980.72,412.13 981.03,411.64 981.35,412.26 981.66,411.62 981.91,412.18 981.98,412.14 982.19,402.60 982.29,407.87 982.46,411.13 982.61,411.42 982.92,412.35 983.24,412.79 983.55,411.52 983.87,411.08 984.19,412.32 984.50,411.08 984.82,411.51 985.13,411.12 985.45,412.35 985.76,411.20 986.08,410.71 986.39,411.61 986.54,411.39 986.71,411.48 986.95,358.57 987.02,411.31 987.34,411.66 987.36,411.57 987.66,411.24 987.97,410.48 988.29,410.68 988.60,411.74 988.92,408.63 989.23,412.26 989.55,412.30 989.86,411.66 990.18,411.08 990.49,410.62 990.61,410.70 990.81,411.27 991.02,361.93 991.13,411.16 991.43,410.96 991.44,412.55 991.76,411.34 992.07,411.31 992.39,411.01 992.70,410.52 993.02,411.25 993.33,412.68 993.65,412.56 993.96,412.98 994.28,410.83 994.60,410.97 994.91,412.66 995.23,410.71 995.54,412.18 995.86,411.91 996.17,412.37 996.49,411.39 996.80,412.60 997.12,411.20 997.43,411.38 997.57,412.29 997.75,411.07 997.89,301.84 998.07,411.11 998.21,410.63 998.25,412.30 998.38,412.16 998.66,229.07 998.70,412.07 999.01,411.09 999.07,411.20 999.33,411.64 999.64,411.49 999.96,411.05 1000.27,412.92 1000.59,412.61 1000.90,410.48 1001.22,412.29 1001.54,410.68 1001.85,410.53 1002.17,412.11 1002.48,412.12 1002.80,411.94 1003.11,412.23 1003.43,411.57 1003.74,411.83 1004.06,411.60 1004.37,411.14 1004.69,412.59 1005.01,407.95 1005.32,411.39 1005.64,410.91 1005.95,412.47 1006.27,412.45 1006.58,412.85 1006.90,411.17 1007.21,412.66 1007.53,412.55 1007.84,411.45 1008.16,411.66 1008.48,412.38 1008.77,412.74 1008.79,408.42 1009.11,410.62 1009.18,215.63 1009.42,411.54 1009.59,411.17 1009.74,411.14 1010.05,412.31 1010.37,411.28 1010.68,412.40 1011.00,412.90 1011.31,411.34 1011.63,411.54 1011.95,412.82 1012.26,410.98 1012.58,411.15 1012.89,410.45 1013.21,411.60 1013.52,410.63 1013.84,412.59 1014.15,412.25 1014.47,412.31 1014.78,412.70 1015.10,410.57 1015.42,410.56 1015.73,411.33 1016.05,410.61 1016.36,411.17 1016.68,412.71 1016.99,410.94 1017.31,411.92 1017.62,409.11 1017.94,412.08 1018.25,410.94 1018.57,406.69 1018.84,412.73 1018.89,410.74 1019.20,378.35 1019.20,411.47 1019.52,410.98 1019.57,413.05 1019.83,412.00 1019.98,412.56 1020.15,409.89 1020.39,332.82 1020.46,411.82 1020.78,412.56 1020.80,412.14 1021.09,412.44 1021.17,411.64 1021.41,410.98 1021.44,376.48 1021.72,412.95 1021.72,412.22 1022.04,411.89 1022.36,411.24 1022.67,411.94 1022.99,411.87 1023.30,410.59 1023.62,411.76 1023.93,410.81 1024.25,411.98 1024.56,411.82 1024.88,412.35 1025.19,411.72 1025.51,413.04 1025.83,412.08 1026.14,412.06 1026.46,410.34 1026.71,412.00 1026.77,412.46 1027.09,412.30 1027.12,388.05 1027.40,413.00 1027.53,412.71 1027.72,411.71 1028.03,411.31 1028.35,412.92 1028.66,412.41 1028.98,412.60 1029.30,411.34 1029.61,412.38 1029.93,407.88 1030.24,412.42 1030.56,411.20 1030.87,410.47 1031.19,411.18 1031.50,410.53 1031.82,411.39 1032.13,410.87 1032.45,412.71 1032.77,412.74 1033.08,411.64 1033.40,412.09 1033.71,411.91 1034.03,411.97 1034.34,410.84 1034.66,411.09 1034.97,411.95 1035.29,412.12 1035.60,412.50 1035.92,412.18 1036.24,410.92 1036.55,413.04 1036.87,411.89 1037.15,411.57 1037.18,412.03 1037.43,406.34 1037.50,410.75 1037.70,412.19 1037.81,410.98 1038.13,412.10 1038.44,412.98 1038.76,412.33 1039.07,411.29 1039.39,412.16 1039.71,412.54 1040.02,409.78 1040.34,411.00 1040.65,411.98 1040.66,410.67 1040.97,408.78 1041.07,399.25 1041.28,411.09 1041.48,409.31 1041.60,412.38 1041.91,410.73 1042.23,412.14 1042.54,412.98 1042.86,410.93 1043.18,411.37 1043.49,411.10 1043.81,411.23 1044.12,412.84 1044.44,411.34 1044.75,410.66 1045.07,410.50 1045.38,410.81 1045.70,412.34 1046.01,410.85 1046.33,411.73 1046.64,412.67 1046.96,411.69 1047.28,411.24 1047.59,411.82 1047.91,412.78 1048.22,410.55 1048.54,411.98 1048.85,411.87 1049.17,412.34 1049.48,412.10 1049.80,411.33 1050.11,408.96 1050.43,412.26 1050.75,409.00 1051.06,411.72 1051.38,412.12 1051.69,412.31 1051.88,411.55 1052.01,412.67 1052.29,389.17 1052.32,411.71 1052.64,412.33 1052.70,410.47 1052.95,410.67 1053.27,410.56 1053.58,411.18 1053.90,411.84 1054.22,412.02 1054.53,410.64 1054.85,412.91 1055.16,411.66 1055.48,412.90 1055.79,412.20 1056.11,412.10 1056.42,411.95 1056.74,410.69 1057.05,412.40 1057.37,412.37 1057.69,413.03 1058.00,406.83 1058.32,411.45 1058.63,407.57 1058.95,411.93 1059.26,410.92 1059.58,412.85 1059.89,410.66 1060.21,412.89 1060.52,412.72" fill="none" stroke="#0000ff" stroke-width="2.3" stroke-linejoin="miter" stroke-miterlimit="2"/>
<rect x="570.0" y="410.44" width="490.7" height="3.36" fill="#ff7f00"/>
<polyline points="570.00,411.05 570.39,410.60 570.77,410.75 571.16,412.60 571.54,410.22 571.93,410.33 572.31,411.46 572.70,411.26 573.08,412.65 573.47,411.95 573.86,410.68 574.24,410.60 574.63,411.07 575.01,412.68 575.40,412.13 575.78,410.11 576.17,411.92 576.55,411.27 576.94,412.15 577.33,410.88 577.71,410.35 578.10,411.74 578.48,410.39 578.87,408.21 579.25,411.80 579.64,410.54 580.02,411.86 580.41,407.17 580.80,412.62 581.18,407.30 581.57,411.72 581.95,411.06 582.34,410.19 582.72,410.71 583.11,410.22 583.49,411.75 583.88,410.65 584.27,410.73 584.65,406.84 585.04,412.44 585.42,411.08 585.81,411.79 586.19,411.26 586.58,411.85 586.96,412.48 587.35,410.88 587.74,408.56 588.12,411.29 588.51,412.06 588.89,410.52 589.28,408.07 589.66,412.59 590.05,410.49 590.43,410.77 590.82,411.03 591.21,412.40 591.59,412.29 591.98,411.91 592.36,410.07 592.75,410.13 593.13,411.41 593.52,411.43 593.90,411.63 594.29,411.70 594.68,410.17 595.06,411.38 595.45,412.45 595.83,410.64 596.22,411.74 596.60,410.66 596.99,410.95 597.37,411.73 597.76,411.95 598.15,410.67 598.53,411.91 598.92,410.98 599.30,412.65 599.69,412.03 600.07,411.47 600.46,410.99 600.84,411.77 601.23,410.75 601.62,411.77 602.00,410.41 602.39,410.13 602.77,411.33 603.16,412.25 603.54,410.23 603.93,410.87 604.31,410.77 604.70,410.64 604.78,411.79 605.05,406.34 605.09,410.94 605.32,411.29 605.47,411.05 605.86,411.02 606.24,412.61 606.63,411.53 607.01,412.11 607.40,408.68 607.78,410.62 608.17,411.85 608.56,409.84 608.94,411.69 609.33,411.14 609.71,408.14 610.10,411.95 610.48,412.38 610.87,408.98 611.25,412.43 611.64,411.79 612.02,410.18 612.41,411.59 612.80,411.00 613.18,412.31 613.57,411.21 613.95,410.15 614.34,411.76 614.72,412.68 615.11,411.20 615.49,412.31 615.88,410.35 616.27,411.55 616.65,411.92 617.04,411.69 617.42,410.29 617.81,412.00 618.19,411.38 618.58,411.85 618.96,411.40 619.35,411.43 619.74,411.06 620.12,411.91 620.51,408.01 620.89,411.97 621.28,410.64 621.66,411.98 622.05,410.10 622.43,411.09 622.82,411.00 623.21,410.74 623.59,410.69 623.98,411.29 624.36,411.90 624.75,411.47 625.13,410.73 625.52,412.59 625.90,411.49 626.29,410.36 626.68,412.64 627.06,411.56 627.45,410.83 627.83,411.42 628.22,411.67 628.60,410.45 628.99,411.91 629.37,412.51 629.76,410.87 630.15,411.93 630.53,410.30 630.92,411.43 631.30,411.38 631.69,412.28 632.07,408.84 632.46,410.54 632.84,407.94 633.23,410.12 633.62,407.53 634.00,412.11 634.39,410.19 634.77,412.33 635.16,410.28 635.54,411.09 635.93,412.26 636.31,412.57 636.70,410.42 637.09,411.18 637.47,410.39 637.86,411.55 638.01,412.40 638.24,411.11 638.42,393.65 638.63,410.23 638.83,410.32 639.01,412.53 639.40,412.29 639.78,411.36 640.17,411.23 640.56,411.99 640.94,412.02 641.33,411.33 641.71,412.07 642.10,410.76 642.48,410.82 642.87,412.46 643.25,412.44 643.64,411.13 644.03,410.39 644.41,411.84 644.80,412.60 645.18,412.54 645.57,410.19 645.95,412.10 646.34,410.14 646.72,410.54 647.11,411.05 647.50,412.07 647.88,411.08 648.27,411.67 648.65,410.51 648.89,411.27 649.04,410.58 649.21,365.28 649.42,410.46 649.53,410.34 649.81,411.13 650.19,410.75 650.58,410.78 650.84,411.19 650.97,412.58 651.25,254.82 651.35,411.42 651.66,411.71 651.74,412.68 652.12,410.36 652.51,411.56 652.89,412.42 653.28,412.26 653.66,411.67 654.05,412.28 654.44,411.96 654.82,411.93 655.21,407.89 655.59,411.72 655.98,410.88 656.36,411.45 656.75,412.37 657.13,411.92 657.52,410.78 657.91,410.43 658.29,412.48 658.68,410.14 659.06,411.87 659.45,411.94 659.83,410.80 660.22,412.05 660.60,410.22 660.99,411.56 661.38,409.51 661.76,409.06 662.15,410.10 662.53,411.77 662.92,412.49 663.30,411.40 663.69,412.54 664.07,412.55 664.46,412.52 664.85,411.62 665.23,411.20 665.23,408.89 665.62,412.21 665.69,40.60 666.00,411.63 666.14,409.47 666.39,412.46 666.77,412.40 667.16,410.27 667.54,410.44 667.93,412.63 668.32,411.41 668.70,411.70 669.09,410.78 669.47,411.88 669.86,410.52 670.24,412.38 670.63,412.45 671.01,410.54 671.40,412.34 671.79,412.04 672.17,411.56 672.56,409.09 672.94,412.55 673.33,411.93 673.71,412.42 674.10,411.86 674.48,411.23 674.87,410.97 674.88,410.53 675.15,402.60 675.26,411.18 675.42,411.46 675.64,410.55 676.03,410.19 676.41,410.85 676.80,410.56 676.89,410.82 677.18,410.78 677.25,361.55 677.57,411.99 677.62,411.67 677.95,408.82 678.34,409.97 678.73,412.34 679.11,410.43 679.50,411.08 679.88,409.11 679.88,411.56 680.27,409.17 680.34,205.93 680.65,410.52 680.79,408.73 681.04,412.43 681.42,412.23 681.81,411.51 682.20,410.60 682.58,411.85 682.97,411.48 683.35,411.53 683.74,410.23 684.12,410.15 684.51,412.41 684.89,407.91 685.28,412.59 685.67,411.42 686.05,411.65 686.09,410.37 686.37,406.34 686.44,411.96 686.64,411.62 686.82,411.21 687.21,410.72 687.59,411.76 687.98,410.11 688.36,410.46 688.75,411.63 688.85,411.93 689.13,410.51 689.17,402.60 689.49,410.29 689.52,412.58 689.91,412.42 690.29,410.33 690.68,410.60 691.06,410.90 691.45,411.05 691.83,409.24 692.22,411.15 692.31,410.15 692.60,411.66 692.68,377.23 692.99,412.61 693.04,412.50 693.38,411.68 693.76,410.84 694.15,410.11 694.53,410.27 694.92,410.93 695.30,410.59 695.69,411.13 695.91,410.39 696.07,411.32 696.32,350.36 696.46,412.48 696.73,410.30 696.85,411.75 697.23,410.70 697.62,411.88 698.00,411.96 698.39,412.49 698.77,410.93 699.16,410.34 699.41,412.33 699.54,410.49 699.69,406.34 699.93,411.08 699.96,410.12 700.32,411.33 700.70,412.06 701.09,411.26 701.47,412.67 701.86,412.22 702.24,410.33 702.63,411.08 703.01,412.40 703.40,411.23 703.57,411.89 703.79,411.70 703.89,402.60 704.17,412.12 704.21,409.81 704.56,411.98 704.94,410.34 705.33,411.03 705.71,409.50 705.72,408.25 705.99,406.34 706.10,410.51 706.27,412.33 706.48,410.78 706.87,411.57 707.26,410.32 707.64,411.95 708.03,410.16 708.41,412.60 708.80,411.21 709.18,412.20 709.48,410.32 709.57,411.13 709.85,397.01 709.95,410.88 710.21,411.29 710.34,412.52 710.73,410.50 711.11,411.85 711.50,410.99 711.88,412.08 712.27,410.48 712.65,412.42 713.04,412.27 713.42,412.28 713.69,407.66 713.81,412.41 714.06,395.14 714.20,410.76 714.42,411.90 714.58,410.58 714.97,410.27 715.35,411.05 715.74,412.41 716.12,412.51 716.51,411.70 716.89,410.90 717.28,412.46 717.67,411.26 718.05,412.37 718.44,411.70 718.82,411.39 719.21,407.11 719.59,410.80 719.98,412.38 720.36,411.76 720.75,410.28 721.14,411.92 721.52,410.86 721.91,411.18 722.29,411.80 722.68,409.11 723.06,412.06 723.45,412.49 723.83,412.43 724.22,410.11 724.61,411.67 724.99,412.44 725.38,407.44 725.76,409.96 726.15,411.48 726.53,409.64 726.92,410.14 727.30,411.45 727.69,411.95 728.08,410.89 728.46,412.54 728.85,410.65 729.11,411.94 729.23,411.13 729.48,402.60 729.62,411.00 729.84,411.39 730.00,409.46 730.39,411.60 730.77,410.52 731.16,411.69 731.55,410.70 731.93,412.29 732.32,411.58 732.70,410.08 733.09,411.58 733.47,411.45 733.76,411.40 733.86,410.94 734.03,406.34 734.24,412.24 734.31,412.27 734.63,412.49 735.02,410.34 735.40,408.88 735.79,410.17 736.17,412.32 736.56,410.28 736.94,412.60 737.33,411.56 737.71,410.71 738.10,410.66 738.49,411.33 738.87,410.85 739.26,412.39 739.64,411.70 740.03,411.43 740.41,410.16 740.80,411.19 741.18,411.26 741.57,412.33 741.96,407.70 742.34,411.59 742.73,411.09 743.11,412.53 743.50,412.58 743.88,409.88 744.27,411.50 744.65,410.26 745.04,411.30 745.43,410.23 745.81,410.10 746.20,412.25 746.58,412.48 746.97,410.76 747.35,411.66 747.74,411.90 748.12,410.51 748.51,411.76 748.90,411.20 749.28,410.15 749.67,411.79 750.05,410.15 750.44,411.96 750.82,410.74 751.21,410.51 751.59,411.67 751.98,412.04 752.37,410.39 752.75,410.34 753.14,409.27 753.52,409.98 753.91,410.53 754.29,407.75 754.68,412.37 755.06,411.08 755.45,412.10 755.84,409.48 756.22,410.12 756.61,410.99 756.99,408.00 757.38,410.48 757.76,410.71 758.15,408.80 758.53,411.33 758.92,411.46 759.31,412.12 759.69,410.21 760.08,412.45 760.46,412.47 760.85,411.06 761.23,412.22 761.62,411.40 762.00,411.51 762.39,410.30 762.78,411.98 763.16,411.28 763.55,411.23 763.93,411.58 764.32,410.50 764.70,412.40 765.09,411.75 765.47,411.99 765.86,411.01 766.24,412.38 766.63,411.80 767.02,411.03 767.40,407.50 767.79,411.68 768.17,410.79 768.56,411.61 768.94,409.44 769.33,411.61 769.71,412.52 770.10,412.21 770.49,410.62 770.87,411.36 771.26,411.59 771.64,412.61 772.03,411.92 772.41,411.34 772.80,410.21 773.18,412.41 773.57,412.38 773.96,412.46 774.34,411.26 774.73,411.97 775.11,410.14 775.50,412.13 775.88,410.28 776.27,411.02 776.65,411.83 777.04,411.30 777.43,412.54 777.81,411.46 778.20,410.28 778.58,411.37 778.97,410.74 779.35,411.45 779.74,411.10 780.12,412.15 780.51,410.78 780.90,410.07 781.28,412.24 781.67,411.51 782.05,410.44 782.44,410.86 782.82,411.16 783.21,408.75 783.59,412.36 783.98,411.80 784.37,411.01 784.75,410.40 785.14,411.94 785.52,410.39 785.91,411.58 786.29,410.13 786.68,410.97 787.06,407.19 787.45,411.86 787.84,410.95 788.22,410.49 788.61,411.79 788.99,411.36 789.38,411.08 789.76,412.26 790.15,412.68 790.53,410.66 790.92,412.57 791.31,411.43 791.69,412.15 792.08,410.45 792.46,410.51 792.85,411.67 793.23,412.08 793.62,412.65 794.00,411.16 794.39,411.36 794.78,411.88 795.16,411.71 795.55,410.70 795.93,409.09 796.32,410.48 796.70,409.41 797.09,412.40 797.47,411.54 797.86,411.44 798.25,412.62 798.63,410.68 799.02,410.50 799.40,410.81 799.79,407.64 800.17,410.10 800.56,412.51 800.94,412.42 801.33,412.45 801.72,412.67 802.10,411.90 802.49,411.66 802.87,410.19 803.26,410.88 803.64,411.63 804.03,409.30 804.41,410.67 804.80,410.43 805.19,410.69 805.57,410.28 805.96,411.59 806.34,410.96 806.73,410.82 807.11,412.18 807.50,412.03 807.88,410.67 808.07,411.29 808.27,411.29 808.34,410.07 808.61,411.79 808.66,411.73 809.04,411.10 809.43,412.30 809.81,412.66 810.20,411.57 810.58,412.66 810.97,410.18 811.35,411.83 811.74,412.47 812.13,409.97 812.51,410.70 812.90,410.58 813.28,410.28 813.67,411.28 814.05,411.57 814.44,410.53 814.82,411.91 815.21,412.50 815.60,412.11 815.98,411.13 816.37,410.77 816.75,411.84 817.14,410.65 817.52,410.91 817.91,411.32 818.29,411.01 818.68,408.56 819.07,411.45 819.28,412.16 819.45,412.29 819.56,409.32 819.83,412.05 819.84,408.62 820.22,412.04 820.61,412.44 820.99,410.25 821.38,412.43 821.76,410.21 822.15,411.79 822.54,410.90 822.92,412.42 823.31,411.82 823.69,411.50 824.08,412.53 824.46,411.93 824.85,410.53 825.23,411.77 825.62,410.47 826.01,411.50 826.39,411.07 826.78,411.57 827.16,411.53 827.55,411.88 827.93,411.10 828.32,412.22 828.70,409.36 829.09,410.71 829.48,412.50 829.86,411.04 830.25,408.65 830.63,412.26 831.02,410.87 831.40,410.45 831.79,411.06 832.17,412.22 832.56,411.85 832.95,412.39 833.33,411.71 833.72,410.22 834.00,412.18 834.10,411.66 834.28,408.20 834.49,410.08 834.55,412.50 834.87,410.73 835.26,411.48 835.64,412.23 836.03,410.25 836.42,412.01 836.80,411.54 837.19,411.49 837.57,412.59 837.96,410.96 838.34,411.38 838.73,411.36 839.11,410.65 839.43,411.27 839.50,411.80 839.88,40.60 839.89,412.26 840.27,412.56 840.34,412.36 840.66,411.97 841.04,412.56 841.43,410.10 841.53,411.87 841.81,412.10 841.85,380.21 842.17,411.64 842.20,412.60 842.58,412.18 842.97,411.87 843.12,410.73 843.35,412.51 843.39,395.14 843.66,411.25 843.74,410.08 844.13,410.28 844.51,410.64 844.90,412.24 845.28,412.51 845.67,410.80 846.05,412.65 846.25,408.47 846.44,410.46 846.61,359.69 846.82,410.77 846.98,410.49 847.21,410.30 847.60,411.68 847.98,410.14 848.37,411.48 848.37,410.51 848.65,395.14 848.75,412.47 848.92,410.58 849.14,411.72 849.52,411.41 849.91,410.74 850.29,411.84 850.68,411.85 851.07,410.45 851.45,411.91 851.84,412.66 852.22,410.18 852.23,411.21 852.50,395.14 852.61,412.08 852.78,410.23 852.99,410.94 853.38,411.94 853.76,412.14 854.15,412.37 854.54,410.84 854.92,411.41 855.31,411.04 855.34,412.22 855.66,376.48 855.69,412.47 855.98,411.06 856.08,411.46 856.46,412.43 856.77,410.47 856.85,411.77 857.13,353.71 857.23,411.32 857.49,411.05 857.62,411.89 858.01,411.10 858.39,411.86 858.78,411.45 859.05,411.86 859.16,411.00 859.37,376.48 859.55,411.51 859.69,411.19 859.93,412.17 860.20,410.85 860.32,407.83 860.56,359.69 860.70,410.09 860.93,412.16 861.09,412.26 861.48,408.27 861.69,412.26 861.86,410.86 861.97,380.21 862.24,410.29 862.25,412.63 862.63,411.95 863.02,411.53 863.40,411.43 863.79,412.29 864.17,410.80 864.56,411.28 864.95,410.18 865.29,410.46 865.33,412.56 865.61,387.68 865.72,410.95 865.93,410.59 866.10,410.89 866.49,411.07 866.87,410.93 867.26,410.83 867.64,410.84 868.03,411.08 868.42,412.52 868.75,411.72 868.80,412.09 869.12,345.13 869.19,411.31 869.48,412.00 869.57,410.68 869.96,410.23 870.34,411.20 870.73,411.83 871.11,410.18 871.50,410.65 871.51,408.60 871.78,391.41 871.89,411.27 872.05,410.60 872.27,410.43 872.66,411.41 873.04,410.85 873.43,410.58 873.56,411.59 873.81,412.51 873.88,383.94 874.20,410.29 874.20,412.58 874.58,410.71 874.97,410.67 875.36,410.94 875.74,410.42 876.13,410.15 876.51,411.39 876.84,410.90 876.90,407.59 877.25,326.47 877.28,411.85 877.66,411.51 877.67,412.57 878.05,410.25 878.22,410.52 878.44,411.90 878.58,335.43 878.83,412.05 878.94,412.20 879.21,411.20 879.60,411.43 879.98,412.00 880.37,412.68 880.75,412.29 880.97,410.39 881.14,410.67 881.24,395.14 881.52,411.25 881.52,411.75 881.91,411.91 882.30,411.43 882.68,411.31 883.07,412.30 883.45,412.41 883.84,410.68 884.22,410.40 884.61,406.75 884.99,409.77 885.38,410.10 885.51,411.87 885.77,410.75 885.87,364.54 886.15,412.66 886.24,411.94 886.54,411.46 886.92,410.31 887.28,411.60 887.31,410.10 887.55,395.14 887.69,411.88 887.83,410.17 888.08,411.57 888.46,411.50 888.85,410.20 889.24,411.88 889.62,412.04 890.01,412.41 890.39,410.08 890.78,411.31 891.16,410.92 891.55,411.72 891.93,412.60 892.03,410.38 892.32,408.74 892.39,366.40 892.71,411.80 892.75,412.61 893.09,411.86 893.48,412.13 893.86,410.08 894.25,410.35 894.63,411.92 895.02,412.56 895.40,410.23 895.79,412.55 896.18,410.49 896.56,412.13 896.95,412.51 897.33,412.21 897.52,410.22 897.72,410.34 897.93,337.29 898.10,411.40 898.34,410.81 898.49,412.33 898.87,410.42 899.26,410.37 899.65,410.12 900.03,410.27 900.30,411.21 900.42,410.24 900.66,354.83 900.80,412.49 901.03,410.19 901.19,410.97 901.57,408.87 901.96,411.78 902.00,409.23 902.27,391.41 902.34,412.09 902.55,411.85 902.73,411.71 903.12,411.60 903.50,411.12 903.89,406.82 904.27,412.43 904.66,410.75 905.04,411.07 905.43,410.79 905.81,412.17 906.20,408.78 906.59,410.20 906.97,411.60 907.36,410.64 907.74,412.24 908.13,407.94 908.51,412.10 908.90,411.74 909.28,411.89 909.67,411.37 910.06,410.90 910.44,410.21 910.83,410.61 911.21,411.06 911.60,410.62 911.98,412.17 912.37,409.36 912.75,411.82 913.14,409.74 913.53,411.75 913.91,410.91 914.30,410.85 914.68,410.10 915.07,411.16 915.16,411.54 915.45,411.93 915.52,376.48 915.84,411.09 915.89,411.79 916.22,412.32 916.61,411.93 916.99,410.76 917.38,411.99 917.77,410.12 918.15,411.45 918.54,410.97 918.92,412.48 919.31,411.16 919.69,410.13 920.08,410.45 920.46,411.38 920.85,411.45 921.24,410.69 921.62,412.36 922.01,411.31 922.33,412.19 922.39,411.25 922.74,327.96 922.78,411.18 923.15,412.57 923.16,412.34 923.55,411.77 923.93,410.55 924.32,410.68 924.43,410.26 924.71,412.34 924.71,398.87 924.98,411.44 925.09,412.12 925.48,410.86 925.86,412.67 926.25,410.62 926.63,410.11 927.02,410.77 927.40,411.16 927.79,412.08 928.18,411.09 928.56,411.10 928.95,410.98 929.33,411.61 929.72,410.90 930.10,412.58 930.49,411.74 930.87,410.97 931.26,410.55 931.65,411.76 932.03,410.91 932.14,410.72 932.42,407.84 932.42,406.34 932.69,410.83 932.80,410.44 933.19,412.18 933.57,411.29 933.96,411.82 934.34,411.00 934.73,411.79 935.12,412.35 935.50,412.50 935.89,412.30 936.27,410.20 936.66,410.71 937.04,412.05 937.31,411.64 937.43,410.11 937.67,382.08 937.81,410.32 938.04,412.21 938.20,410.90 938.59,410.77 938.97,411.13 939.36,411.09 939.74,411.14 940.13,412.15 940.51,410.46 940.90,412.01 941.28,412.49 941.67,410.92 942.06,411.16 942.44,410.62 942.83,411.01 943.21,410.53 943.60,412.38 943.98,407.05 944.37,411.09 944.75,410.85 945.14,412.38 945.53,410.83 945.91,411.97 946.30,410.24 946.68,412.13 947.07,410.12 947.45,412.17 947.84,411.67 948.22,410.89 948.61,411.13 949.00,412.10 949.38,411.56 949.77,412.31 950.15,412.00 950.54,412.40 950.92,410.12 951.31,410.50 951.69,410.86 952.08,411.55 952.47,412.03 952.85,412.25 953.24,411.31 953.62,412.02 953.87,412.05 954.01,412.38 954.15,406.34 954.39,412.48 954.42,410.42 954.78,412.01 955.16,411.98 955.55,410.21 955.94,412.09 956.32,411.45 956.71,411.47 957.09,412.00 957.48,411.72 957.86,410.83 958.08,407.22 958.25,412.60 958.35,404.47 958.63,411.46 958.63,411.59 959.02,408.82 959.41,410.35 959.79,410.88 960.18,411.11 960.56,410.62 960.95,411.39 961.33,411.24 961.72,411.88 962.10,411.40 962.49,410.07 962.88,408.89 963.26,411.79 963.65,411.22 964.03,412.42 964.39,412.40 964.42,412.35 964.66,406.34 964.80,410.73 964.94,410.56 965.19,412.24 965.57,412.34 965.96,410.98 966.35,410.78 966.73,411.98 967.12,411.69 967.50,410.30 967.89,410.59 968.27,412.46 968.66,411.17 969.04,412.07 969.43,411.70 969.82,411.58 970.20,411.09 970.59,411.78 970.97,412.26 971.36,412.51 971.74,410.41 972.13,411.12 972.51,411.22 972.90,412.22 973.29,411.38 973.67,411.52 974.06,411.00 974.32,412.44 974.44,412.06 974.69,392.53 974.83,411.24 975.05,410.67 975.21,411.45 975.60,411.04 975.98,411.71 976.37,411.21 976.76,412.04 977.14,410.27 977.53,410.90 977.91,411.40 978.30,412.06 978.68,408.69 979.07,410.75 979.45,412.17 979.84,410.12 980.23,410.83 980.61,410.07 981.00,410.34 981.38,412.34 981.77,410.84 982.15,412.45 982.54,410.27 982.92,412.51 983.31,410.10 983.70,410.81 984.08,411.03 984.47,409.88 984.85,410.19 985.24,410.24 985.62,412.41 986.01,411.56 986.12,412.51 986.39,412.07 986.39,404.47 986.67,410.29 986.78,410.64 987.17,411.56 987.55,411.65 987.94,411.83 988.32,410.17 988.71,412.33 989.09,410.54 989.48,410.36 989.86,412.50 990.25,411.69 990.64,411.25 991.02,411.03 991.03,412.46 991.30,406.34 991.41,412.03 991.57,410.54 991.79,411.66 992.18,410.58 992.56,412.09 992.95,411.40 993.33,410.11 993.72,411.26 994.10,411.93 994.49,410.16 994.88,411.99 995.26,411.07 995.65,410.93 995.93,410.86 996.03,410.64 996.21,408.20 996.42,410.53 996.48,410.49 996.80,412.23 997.19,412.35 997.57,410.08 997.96,412.05 998.35,410.46 998.73,411.88 999.12,412.34 999.50,411.64 999.89,412.30 1000.27,411.89 1000.66,410.17 1001.04,411.96 1001.43,411.80 1001.82,411.57 1002.20,410.72 1002.59,410.71 1002.97,412.28 1003.36,408.32 1003.74,411.87 1004.13,410.41 1004.51,410.40 1004.90,410.78 1005.29,410.99 1005.67,411.74 1006.06,412.57 1006.44,410.77 1006.83,412.15 1007.21,411.35 1007.60,410.72 1007.98,410.53 1008.37,412.32 1008.55,410.77 1008.76,410.55 1008.83,406.34 1009.10,410.62 1009.14,411.67 1009.53,411.91 1009.91,410.09 1010.30,410.22 1010.68,410.08 1011.07,412.16 1011.45,412.23 1011.84,411.19 1012.23,411.40 1012.61,410.18 1013.00,412.09 1013.38,411.14 1013.77,410.08 1014.15,411.09 1014.54,411.29 1014.92,411.83 1015.31,408.51 1015.70,410.08 1016.08,411.39 1016.47,411.03 1016.85,411.40 1017.24,410.36 1017.62,410.79 1018.01,412.16 1018.39,411.98 1018.78,410.20 1019.07,411.65 1019.17,410.55 1019.34,402.60 1019.55,410.04 1019.61,410.09 1019.94,410.99 1020.32,411.75 1020.71,412.25 1021.09,410.64 1021.48,411.21 1021.86,412.67 1022.25,410.31 1022.64,410.18 1023.02,411.21 1023.41,410.41 1023.79,411.56 1024.18,410.15 1024.56,412.28 1024.68,411.36 1024.95,411.00 1024.95,406.34 1025.22,410.40 1025.33,410.87 1025.72,410.73 1026.11,407.67 1026.49,410.18 1026.88,411.91 1027.26,412.38 1027.65,411.78 1028.03,409.67 1028.42,412.06 1028.80,411.81 1029.19,412.62 1029.58,412.54 1029.96,411.58 1030.35,411.56 1030.73,412.54 1031.12,412.66 1031.50,410.82 1031.89,412.22 1032.27,410.21 1032.66,412.37 1033.05,410.42 1033.43,410.94 1033.82,411.06 1034.20,411.42 1034.59,411.43 1034.97,410.13 1035.36,411.35 1035.74,411.36 1036.13,410.93 1036.52,412.13 1036.90,409.35 1037.29,410.17 1037.67,411.72 1038.06,410.86 1038.44,411.62 1038.83,411.96 1039.21,411.57 1039.60,411.77 1039.99,412.17 1040.37,409.94 1040.76,411.48 1041.14,410.56 1041.53,410.57 1041.91,412.17 1042.30,412.32 1042.68,412.18 1043.07,412.32 1043.46,412.13 1043.84,411.13 1044.23,412.58 1044.61,411.30 1045.00,411.33 1045.00,412.34 1045.28,409.32 1045.38,410.53 1045.55,412.33 1045.77,409.47 1046.15,412.61 1046.54,411.43 1046.93,410.50 1047.31,410.87 1047.70,410.78 1048.08,412.11 1048.47,411.45 1048.85,412.16 1049.24,411.44 1049.62,410.48 1050.01,411.15 1050.40,412.06 1050.78,409.07 1051.17,409.19 1051.55,411.79 1051.94,410.65 1052.32,410.27 1052.71,411.69 1053.09,410.66 1053.48,412.19 1053.87,411.20 1054.25,410.98 1054.64,410.50 1055.02,411.36 1055.41,410.79 1055.79,412.19 1056.18,411.92 1056.56,412.03 1056.95,410.99 1057.34,411.14 1057.72,410.37 1058.11,411.14 1058.49,411.81 1058.88,409.35 1059.26,411.60 1059.65,408.58 1060.03,411.99 1060.42,412.61" fill="none" stroke="#ff7f00" stroke-width="2.4" stroke-linejoin="miter" stroke-miterlimit="2"/>
</g>
<rect x="570.0" y="40.6" width="490.70" height="373.20" fill="none" stroke="#2a2a2a" stroke-width="2"/>
<line x1="570.00" y1="413.80" x2="570.00" y2="420.80" stroke="#2a2a2a" stroke-width="2"/>
<line x1="570.00" y1="40.60" x2="570.00" y2="33.60" stroke="#2a2a2a" stroke-width="2"/>
<line x1="605.05" y1="413.80" x2="605.05" y2="417.80" stroke="#2a2a2a" stroke-width="2"/>
<line x1="605.05" y1="40.60" x2="605.05" y2="36.60" stroke="#2a2a2a" stroke-width="2"/>
<line x1="640.10" y1="413.80" x2="640.10" y2="420.80" stroke="#2a2a2a" stroke-width="2"/>
<line x1="640.10" y1="40.60" x2="640.10" y2="33.60" stroke="#2a2a2a" stroke-width="2"/>
<line x1="675.15" y1="413.80" x2="675.15" y2="417.80" stroke="#2a2a2a" stroke-width="2"/>
<line x1="675.15" y1="40.60" x2="675.15" y2="36.60" stroke="#2a2a2a" stroke-width="2"/>
<line x1="710.20" y1="413.80" x2="710.20" y2="420.80" stroke="#2a2a2a" stroke-width="2"/>
<line x1="710.20" y1="40.60" x2="710.20" y2="33.60" stroke="#2a2a2a" stroke-width="2"/>
<line x1="745.25" y1="413.80" x2="745.25" y2="417.80" stroke="#2a2a2a" stroke-width="2"/>
<line x1="745.25" y1="40.60" x2="745.25" y2="36.60" stroke="#2a2a2a" stroke-width="2"/>
<line x1="780.30" y1="413.80" x2="780.30" y2="420.80" stroke="#2a2a2a" stroke-width="2"/>
<line x1="780.30" y1="40.60" x2="780.30" y2="33.60" stroke="#2a2a2a" stroke-width="2"/>
<line x1="815.35" y1="413.80" x2="815.35" y2="417.80" stroke="#2a2a2a" stroke-width="2"/>
<line x1="815.35" y1="40.60" x2="815.35" y2="36.60" stroke="#2a2a2a" stroke-width="2"/>
<line x1="850.40" y1="413.80" x2="850.40" y2="420.80" stroke="#2a2a2a" stroke-width="2"/>
<line x1="850.40" y1="40.60" x2="850.40" y2="33.60" stroke="#2a2a2a" stroke-width="2"/>
<line x1="885.45" y1="413.80" x2="885.45" y2="417.80" stroke="#2a2a2a" stroke-width="2"/>
<line x1="885.45" y1="40.60" x2="885.45" y2="36.60" stroke="#2a2a2a" stroke-width="2"/>
<line x1="920.50" y1="413.80" x2="920.50" y2="420.80" stroke="#2a2a2a" stroke-width="2"/>
<line x1="920.50" y1="40.60" x2="920.50" y2="33.60" stroke="#2a2a2a" stroke-width="2"/>
<line x1="955.55" y1="413.80" x2="955.55" y2="417.80" stroke="#2a2a2a" stroke-width="2"/>
<line x1="955.55" y1="40.60" x2="955.55" y2="36.60" stroke="#2a2a2a" stroke-width="2"/>
<line x1="990.60" y1="413.80" x2="990.60" y2="420.80" stroke="#2a2a2a" stroke-width="2"/>
<line x1="990.60" y1="40.60" x2="990.60" y2="33.60" stroke="#2a2a2a" stroke-width="2"/>
<line x1="1025.65" y1="413.80" x2="1025.65" y2="417.80" stroke="#2a2a2a" stroke-width="2"/>
<line x1="1025.65" y1="40.60" x2="1025.65" y2="36.60" stroke="#2a2a2a" stroke-width="2"/>
<line x1="1060.70" y1="413.80" x2="1060.70" y2="420.80" stroke="#2a2a2a" stroke-width="2"/>
<line x1="1060.70" y1="40.60" x2="1060.70" y2="33.60" stroke="#2a2a2a" stroke-width="2"/>
<line x1="570.00" y1="413.80" x2="563.00" y2="413.80" stroke="#2a2a2a" stroke-width="2"/>
<line x1="1060.70" y1="413.80" x2="1067.70" y2="413.80" stroke="#2a2a2a" stroke-width="2"/>
<line x1="570.00" y1="376.48" x2="566.00" y2="376.48" stroke="#2a2a2a" stroke-width="2"/>
<line x1="1060.70" y1="376.48" x2="1064.70" y2="376.48" stroke="#2a2a2a" stroke-width="2"/>
<line x1="570.00" y1="339.16" x2="563.00" y2="339.16" stroke="#2a2a2a" stroke-width="2"/>
<line x1="1060.70" y1="339.16" x2="1067.70" y2="339.16" stroke="#2a2a2a" stroke-width="2"/>
<line x1="570.00" y1="301.84" x2="566.00" y2="301.84" stroke="#2a2a2a" stroke-width="2"/>
<line x1="1060.70" y1="301.84" x2="1064.70" y2="301.84" stroke="#2a2a2a" stroke-width="2"/>
<line x1="570.00" y1="264.52" x2="563.00" y2="264.52" stroke="#2a2a2a" stroke-width="2"/>
<line x1="1060.70" y1="264.52" x2="1067.70" y2="264.52" stroke="#2a2a2a" stroke-width="2"/>
<line x1="570.00" y1="227.20" x2="566.00" y2="227.20" stroke="#2a2a2a" stroke-width="2"/>
<line x1="1060.70" y1="227.20" x2="1064.70" y2="227.20" stroke="#2a2a2a" stroke-width="2"/>
<line x1="570.00" y1="189.88" x2="563.00" y2="189.88" stroke="#2a2a2a" stroke-width="2"/>
<line x1="1060.70" y1="189.88" x2="1067.70" y2="189.88" stroke="#2a2a2a" stroke-width="2"/>
<line x1="570.00" y1="152.56" x2="566.00" y2="152.56" stroke="#2a2a2a" stroke-width="2"/>
<line x1="1060.70" y1="152.56" x2="1064.70" y2="152.56" stroke="#2a2a2a" stroke-width="2"/>
<line x1="570.00" y1="115.24" x2="563.00" y2="115.24" stroke="#2a2a2a" stroke-width="2"/>
<line x1="1060.70" y1="115.24" x2="1067.70" y2="115.24" stroke="#2a2a2a" stroke-width="2"/>
<line x1="570.00" y1="77.92" x2="566.00" y2="77.92" stroke="#2a2a2a" stroke-width="2"/>
<line x1="1060.70" y1="77.92" x2="1064.70" y2="77.92" stroke="#2a2a2a" stroke-width="2"/>
<line x1="570.00" y1="40.60" x2="563.00" y2="40.60" stroke="#2a2a2a" stroke-width="2"/>
<line x1="1060.70" y1="40.60" x2="1067.70" y2="40.60" stroke="#2a2a2a" stroke-width="2"/>
<text x="556.30" y="420.20" font-size="19.5" text-anchor="end" fill="#111">0,0</text>
<text x="556.30" y="345.56" font-size="19.5" text-anchor="end" fill="#111">0,2</text>
<text x="556.30" y="270.92" font-size="19.5" text-anchor="end" fill="#111">0,4</text>
<text x="556.30" y="196.28" font-size="19.5" text-anchor="end" fill="#111">0,6</text>
<text x="556.30" y="121.64" font-size="19.5" text-anchor="end" fill="#111">0,8</text>
<text x="556.30" y="47.00" font-size="19.5" text-anchor="end" fill="#111">1,0</text>
<text x="570.00" y="442.10" font-size="20" text-anchor="middle" fill="#111">200</text>
<text x="640.10" y="442.10" font-size="20" text-anchor="middle" fill="#111">300</text>
<text x="710.20" y="442.10" font-size="20" text-anchor="middle" fill="#111">400</text>
<text x="780.30" y="442.10" font-size="20" text-anchor="middle" fill="#111">500</text>
<text x="850.40" y="442.10" font-size="20" text-anchor="middle" fill="#111">600</text>
<text x="920.50" y="442.10" font-size="20" text-anchor="middle" fill="#111">700</text>
<text x="990.60" y="442.10" font-size="20" text-anchor="middle" fill="#111">800</text>
<text x="1060.70" y="442.10" font-size="20" text-anchor="middle" fill="#111">900</text>
<text transform="translate(502.4,218.1) rotate(-90)" font-size="31" text-anchor="middle" textLength="195" lengthAdjust="spacingAndGlyphs" fill="#111">intensity [a.u.]</text>
<text x="814.3" y="483.8" font-size="31.5" text-anchor="middle" textLength="241" lengthAdjust="spacingAndGlyphs" fill="#111">wavelength [nm]</text>
<rect x="697" y="63.7" width="124.6" height="53.8" fill="#fff" stroke="#a8a8a8" stroke-width="1.6"/>
<line x1="698.30" y1="76.50" x2="747.00" y2="76.50" stroke="#0000ff" stroke-width="3"/>
<line x1="698.30" y1="100.20" x2="747.00" y2="100.20" stroke="#ff7f00" stroke-width="3"/>
<text x="751" y="83" font-size="18.5" textLength="67" lengthAdjust="spacingAndGlyphs" fill="#222">kINPen</text>
<text x="750.80" y="107.40" font-size="20" fill="#222">v</text>
<text x="761.20" y="112.50" font-size="13" fill="#222">jet</text>
<line x1="661.20" y1="180.20" x2="700.30" y2="180.20" stroke="#0000ff" stroke-width="2"/>
<polygon points="653.2,180.2 663.2,177.0 663.2,183.4" fill="#0000ff"/>
<polygon points="708.3,180.2 698.3,177.0 698.3,183.4" fill="#0000ff"/>
<line x1="646.20" y1="191.00" x2="713.80" y2="191.00" stroke="#ff7f00" stroke-width="2"/>
<polygon points="638.2,191.0 648.2,187.8 648.2,194.2" fill="#ff7f00"/>
<polygon points="721.8,191.0 711.8,187.8 711.8,194.2" fill="#ff7f00"/>
<line x1="833.00" y1="144.30" x2="924.20" y2="144.30" stroke="#ff7f00" stroke-width="2"/>
<polygon points="825.0,144.3 835.0,141.1 835.0,147.5" fill="#ff7f00"/>
<polygon points="932.2,144.3 922.2,141.1 922.2,147.5" fill="#ff7f00"/>
<line x1="918.90" y1="85.20" x2="1048.90" y2="85.20" stroke="#0000ff" stroke-width="2"/>
<polygon points="910.9,85.2 920.9,82.0 920.9,88.4" fill="#0000ff"/>
<polygon points="1056.9,85.2 1046.9,82.0 1046.9,88.4" fill="#0000ff"/>
<line x1="619.80" y1="245.80" x2="638.24" y2="287.19" stroke="#0000ff" stroke-width="1.8"/>
<polygon points="641.5,294.5 634.7,286.6 640.2,284.1" fill="#0000ff"/>
<line x1="721.80" y1="226.70" x2="711.06" y2="381.02" stroke="#ff7f00" stroke-width="1.6"/>
<polygon points="710.5,389.0 708.2,378.8 714.2,379.2" fill="#ff7f00"/>
<line x1="985.20" y1="161.20" x2="977.23" y2="308.01" stroke="#0000ff" stroke-width="1.6"/>
<polygon points="976.8,316.0 974.3,305.9 980.3,306.2" fill="#0000ff"/>
<line x1="995.50" y1="166.80" x2="981.24" y2="320.03" stroke="#ff7f00" stroke-width="1.6"/>
<polygon points="980.5,328.0 978.4,317.8 984.4,318.3" fill="#ff7f00"/>
<text x="676.00" y="164.00" font-size="18" fill="#1a1a1a">N</text>
<text x="690.30" y="170.50" font-size="12.5" fill="#1a1a1a">2</text>
<text x="714.20" y="220.30" font-size="18" fill="#1a1a1a">N</text>
<text x="728.60" y="225.50" font-size="12.5" fill="#1a1a1a">2</text>
<text x="730.60" y="212.50" font-size="10.5" fill="#1a1a1a">+</text>
<text x="594.80" y="234.50" font-size="19.8" fill="#1a1a1a">OH</text>
<text x="865.20" y="126.20" font-size="20" fill="#1a1a1a">Ne</text>
<text x="982.20" y="72.60" font-size="20" fill="#1a1a1a">Ar</text>
<text x="985.00" y="147.80" font-size="20" fill="#1a1a1a">O</text>
<text x="546.80" y="222.00" font-size="17" fill="#1a1a1a">N</text>
<text x="561.00" y="227.50" font-size="12" fill="#1a1a1a">2</text>
<line x1="1227.00" y1="73.20" x2="1227.00" y2="395.38" stroke="#000" stroke-width="3"/>
<line x1="1217.00" y1="395.38" x2="1228.50" y2="395.38" stroke="#000" stroke-width="3"/>
<text x="1214.80" y="401.88" font-size="25" font-weight="bold" text-anchor="end">4</text>
<line x1="1217.00" y1="315.21" x2="1228.50" y2="315.21" stroke="#000" stroke-width="3"/>
<text x="1214.80" y="321.71" font-size="25" font-weight="bold" text-anchor="end">5</text>
<line x1="1217.00" y1="235.04" x2="1228.50" y2="235.04" stroke="#000" stroke-width="3"/>
<text x="1214.80" y="241.54" font-size="25" font-weight="bold" text-anchor="end">6</text>
<line x1="1217.00" y1="154.87" x2="1228.50" y2="154.87" stroke="#000" stroke-width="3"/>
<text x="1214.80" y="161.37" font-size="25" font-weight="bold" text-anchor="end">7</text>
<line x1="1217.00" y1="74.70" x2="1228.50" y2="74.70" stroke="#000" stroke-width="3"/>
<text x="1214.80" y="81.20" font-size="25" font-weight="bold" text-anchor="end">8</text>
<line x1="1218.50" y1="154.87" x2="1546.00" y2="154.87" stroke="#000" stroke-width="3"/>
<rect x="1237.20" y="101.00" width="29.60" height="53.87" fill="#808080" stroke="#000" stroke-width="3"/>
<rect x="1286.30" y="154.87" width="30.40" height="134.83" fill="#8c8cff" stroke="#000" stroke-width="3"/>
<rect x="1328.10" y="154.87" width="28.60" height="177.13" fill="#5858fa" stroke="#000" stroke-width="3"/>
<rect x="1368.50" y="154.87" width="30.00" height="186.73" fill="#0000c2" stroke="#000" stroke-width="3"/>
<rect x="1421.30" y="154.87" width="30.00" height="95.43" fill="#ffa040" stroke="#000" stroke-width="3"/>
<rect x="1462.80" y="154.87" width="28.50" height="160.23" fill="#ff8000" stroke="#000" stroke-width="3"/>
<rect x="1502.80" y="154.87" width="30.00" height="201.83" fill="#ff6400" stroke="#000" stroke-width="3"/>
<line x1="1277" y1="74.00" x2="1277" y2="395" stroke="#000" stroke-width="2.8" stroke-dasharray="2.0 7.55"/>
<text x="1251.00" y="403.40" font-size="25" font-weight="bold" text-anchor="middle">0</text>
<text x="1300.00" y="403.40" font-size="25" font-weight="bold" text-anchor="middle">1</text>
<text x="1341.50" y="403.40" font-size="25" font-weight="bold" text-anchor="middle">5</text>
<text x="1382.50" y="403.40" font-size="25" font-weight="bold" text-anchor="middle" textLength="25.9" lengthAdjust="spacingAndGlyphs">10</text>
<text x="1435.00" y="403.40" font-size="25" font-weight="bold" text-anchor="middle">1</text>
<text x="1477.00" y="403.40" font-size="25" font-weight="bold" text-anchor="middle">5</text>
<text x="1517.50" y="403.40" font-size="25" font-weight="bold" text-anchor="middle" textLength="25.9" lengthAdjust="spacingAndGlyphs">10</text>
<text x="1384.00" y="452.00" font-size="26" font-weight="bold" text-anchor="middle" textLength="292.0" lengthAdjust="spacingAndGlyphs">plasma treatment (min)</text>
<text x="1384.40" y="45.40" font-size="32" font-weight="bold" text-anchor="middle">pH</text>
<text x="1302.40" y="113.20" font-size="22" font-weight="bold" textLength="78.9" lengthAdjust="spacing" fill="#111">kINPen</text>
<line x1="1288.40" y1="124.30" x2="1395.00" y2="124.30" stroke="#000" stroke-width="3"/>
<text x="1448.90" y="99.80" font-size="21" font-weight="bold" textLength="10.4" lengthAdjust="spacingAndGlyphs" fill="#ff8000">v</text>
<text x="1459.10" y="109.90" font-size="22" font-weight="bold" textLength="31.6" lengthAdjust="spacing" fill="#111">jet</text>
<line x1="1421.40" y1="124.40" x2="1529.40" y2="124.40" stroke="#000" stroke-width="3"/>
<line x1="88.50" y1="662.90" x2="88.50" y2="978.00" stroke="#000" stroke-width="3"/>
<line x1="78.50" y1="978.00" x2="90.00" y2="978.00" stroke="#000" stroke-width="3"/>
<text x="75.50" y="984.80" font-size="25" font-weight="bold" text-anchor="end">0</text>
<line x1="78.50" y1="899.60" x2="90.00" y2="899.60" stroke="#000" stroke-width="3"/>
<text x="75.50" y="906.40" font-size="25" font-weight="bold" text-anchor="end" textLength="38.8" lengthAdjust="spacingAndGlyphs">100</text>
<line x1="78.50" y1="821.20" x2="90.00" y2="821.20" stroke="#000" stroke-width="3"/>
<text x="75.50" y="828.00" font-size="25" font-weight="bold" text-anchor="end" textLength="38.8" lengthAdjust="spacingAndGlyphs">200</text>
<line x1="78.50" y1="742.80" x2="90.00" y2="742.80" stroke="#000" stroke-width="3"/>
<text x="75.50" y="749.60" font-size="25" font-weight="bold" text-anchor="end" textLength="38.8" lengthAdjust="spacingAndGlyphs">300</text>
<line x1="78.50" y1="664.40" x2="90.00" y2="664.40" stroke="#000" stroke-width="3"/>
<text x="75.50" y="671.20" font-size="25" font-weight="bold" text-anchor="end" textLength="38.8" lengthAdjust="spacingAndGlyphs">400</text>
<line x1="78.75" y1="978.50" x2="403.75" y2="978.50" stroke="#000" stroke-width="3"/>
<line x1="113.00" y1="978.00" x2="113.00" y2="987.00" stroke="#000" stroke-width="3"/>
<line x1="161.25" y1="978.00" x2="161.25" y2="987.00" stroke="#000" stroke-width="3"/>
<line x1="202.50" y1="978.00" x2="202.50" y2="987.00" stroke="#000" stroke-width="3"/>
<line x1="244.25" y1="978.00" x2="244.25" y2="987.00" stroke="#000" stroke-width="3"/>
<line x1="293.25" y1="978.00" x2="293.25" y2="987.00" stroke="#000" stroke-width="3"/>
<line x1="334.25" y1="978.00" x2="334.25" y2="987.00" stroke="#000" stroke-width="3"/>
<line x1="375.50" y1="978.00" x2="375.50" y2="987.00" stroke="#000" stroke-width="3"/>
<text x="113.00" y="1012.00" font-size="25" font-weight="bold" text-anchor="middle">0</text>
<text x="161.25" y="1012.00" font-size="25" font-weight="bold" text-anchor="middle">1</text>
<text x="202.50" y="1012.00" font-size="25" font-weight="bold" text-anchor="middle">5</text>
<text x="244.25" y="1012.00" font-size="25" font-weight="bold" text-anchor="middle" textLength="25.9" lengthAdjust="spacingAndGlyphs">10</text>
<text x="293.25" y="1012.00" font-size="25" font-weight="bold" text-anchor="middle">1</text>
<text x="334.25" y="1012.00" font-size="25" font-weight="bold" text-anchor="middle">5</text>
<text x="375.50" y="1012.00" font-size="25" font-weight="bold" text-anchor="middle" textLength="25.9" lengthAdjust="spacingAndGlyphs">10</text>
<line x1="162.25" y1="953.00" x2="162.25" y2="950.50" stroke="#000" stroke-width="2.2"/>
<line x1="158.75" y1="951.70" x2="165.75" y2="951.70" stroke="#000" stroke-width="2.6"/>
<line x1="202.90" y1="888.50" x2="202.90" y2="886.00" stroke="#000" stroke-width="2.2"/>
<line x1="199.40" y1="887.20" x2="206.40" y2="887.20" stroke="#000" stroke-width="2.6"/>
<line x1="244.40" y1="826.75" x2="244.40" y2="823.50" stroke="#000" stroke-width="2.2"/>
<line x1="240.90" y1="824.70" x2="247.90" y2="824.70" stroke="#000" stroke-width="2.6"/>
<line x1="294.10" y1="943.50" x2="294.10" y2="941.00" stroke="#000" stroke-width="2.2"/>
<line x1="290.60" y1="942.20" x2="297.60" y2="942.20" stroke="#000" stroke-width="2.6"/>
<line x1="336.00" y1="870.50" x2="336.00" y2="857.00" stroke="#000" stroke-width="2.2"/>
<line x1="332.50" y1="858.20" x2="339.50" y2="858.20" stroke="#000" stroke-width="2.6"/>
<line x1="376.90" y1="796.50" x2="376.90" y2="777.50" stroke="#000" stroke-width="2.2"/>
<line x1="373.40" y1="778.70" x2="380.40" y2="778.70" stroke="#000" stroke-width="2.6"/>
<rect x="147.25" y="953.50" width="30.00" height="24.50" fill="#8c8cff" stroke="#000" stroke-width="3"/>
<rect x="187.90" y="889.00" width="30.00" height="89.00" fill="#5858fa" stroke="#000" stroke-width="3"/>
<rect x="229.40" y="827.25" width="30.00" height="150.75" fill="#0000c2" stroke="#000" stroke-width="3"/>
<rect x="279.10" y="944.00" width="30.00" height="34.00" fill="#ffa040" stroke="#000" stroke-width="3"/>
<rect x="321.00" y="871.00" width="30.00" height="107.00" fill="#ff8000" stroke="#000" stroke-width="3"/>
<rect x="361.90" y="797.00" width="30.00" height="181.00" fill="#ff6400" stroke="#000" stroke-width="3"/>
<line x1="138" y1="664.10" x2="138" y2="975" stroke="#000" stroke-width="2.4" stroke-dasharray="1.8 7.77"/>
<text x="158.40" y="719.00" font-size="22" font-weight="bold" textLength="78.0" lengthAdjust="spacing" fill="#111">kINPen</text>
<line x1="145.00" y1="731.00" x2="249.40" y2="731.00" stroke="#000" stroke-width="3"/>
<text x="303.80" y="705.70" font-size="21" font-weight="bold" textLength="10.0" lengthAdjust="spacingAndGlyphs" fill="#ff8000">v</text>
<text x="314.70" y="715.80" font-size="22" font-weight="bold" textLength="30.0" lengthAdjust="spacing" fill="#111">jet</text>
<line x1="276.30" y1="729.30" x2="382.40" y2="729.30" stroke="#000" stroke-width="3"/>
<text x="210.0" y="650" font-size="32" font-weight="bold">H<tspan font-size="22.5" font-weight="normal" dx="-0.8" dy="6.5">2</tspan><tspan dx="-0.6" dy="-6.5">O</tspan><tspan font-size="22.5" font-weight="normal" dx="-1.2" dy="6.5">2</tspan></text>
<text x="334.20" y="863.47" font-size="35.5" font-weight="bold" text-anchor="middle" fill="#6b6bff">**</text>
<text x="376.80" y="781.67" font-size="35.5" font-weight="bold" text-anchor="middle" fill="#0000c8">***</text>
<text transform="translate(22.10,820.10) rotate(-90)" font-size="28" text-anchor="middle">concentration (µM)</text>
<text x="244.25" y="1059.50" font-size="26" font-weight="bold" text-anchor="middle" textLength="289.5" lengthAdjust="spacingAndGlyphs">plasma treatment (min)</text>
<line x1="554.00" y1="657.90" x2="554.00" y2="978.00" stroke="#000" stroke-width="3"/>
<line x1="544.00" y1="978.20" x2="555.50" y2="978.20" stroke="#000" stroke-width="3"/>
<text x="540.20" y="985.00" font-size="25" font-weight="bold" text-anchor="end">0</text>
<line x1="544.00" y1="898.50" x2="555.50" y2="898.50" stroke="#000" stroke-width="3"/>
<text x="540.20" y="905.30" font-size="25" font-weight="bold" text-anchor="end" textLength="25.9" lengthAdjust="spacingAndGlyphs">50</text>
<line x1="544.00" y1="818.80" x2="555.50" y2="818.80" stroke="#000" stroke-width="3"/>
<text x="540.20" y="825.60" font-size="25" font-weight="bold" text-anchor="end" textLength="38.8" lengthAdjust="spacingAndGlyphs">100</text>
<line x1="544.00" y1="739.10" x2="555.50" y2="739.10" stroke="#000" stroke-width="3"/>
<text x="540.20" y="745.90" font-size="25" font-weight="bold" text-anchor="end" textLength="38.8" lengthAdjust="spacingAndGlyphs">150</text>
<line x1="544.00" y1="659.40" x2="555.50" y2="659.40" stroke="#000" stroke-width="3"/>
<text x="540.20" y="666.20" font-size="25" font-weight="bold" text-anchor="end" textLength="38.8" lengthAdjust="spacingAndGlyphs">200</text>
<line x1="546.30" y1="978.50" x2="869.10" y2="978.50" stroke="#000" stroke-width="3"/>
<line x1="586.20" y1="978.00" x2="586.20" y2="987.00" stroke="#000" stroke-width="3"/>
<line x1="645.30" y1="978.00" x2="645.30" y2="987.00" stroke="#000" stroke-width="3"/>
<line x1="703.40" y1="978.00" x2="703.40" y2="987.00" stroke="#000" stroke-width="3"/>
<line x1="761.40" y1="978.00" x2="761.40" y2="987.00" stroke="#000" stroke-width="3"/>
<line x1="831.00" y1="978.00" x2="831.00" y2="987.00" stroke="#000" stroke-width="3"/>
<text x="586.20" y="1012.00" font-size="25" font-weight="bold" text-anchor="middle">0</text>
<text x="645.30" y="1012.00" font-size="25" font-weight="bold" text-anchor="middle">1</text>
<text x="703.40" y="1012.00" font-size="25" font-weight="bold" text-anchor="middle">5</text>
<text x="761.40" y="1012.00" font-size="25" font-weight="bold" text-anchor="middle" textLength="25.9" lengthAdjust="spacingAndGlyphs">10</text>
<text x="831" y="1012" font-size="25" font-weight="bold" text-anchor="middle">HeO<tspan font-size="20" font-weight="normal" dy="5">2</tspan></text>
<rect x="582.7" y="975.2" width="7" height="3" fill="#000"/>
<rect x="641.8" y="975.2" width="7" height="3" fill="#000"/>
<rect x="687.8" y="975.0" width="30.8" height="3.5" fill="#000"/>
<rect x="745.8" y="974.6" width="30.8" height="3.9" fill="#000"/>
<rect x="757.7" y="973.0" width="7" height="2.5" fill="#000"/>
<rect x="817.60" y="699.60" width="30.90" height="278.40" fill="#c000c0" stroke="#000" stroke-width="3"/>
<line x1="797.7" y1="659.10" x2="797.7" y2="975" stroke="#000" stroke-width="2.4" stroke-dasharray="1.8 7.77"/>
<rect x="644.8" y="684.2" width="51" height="42.4" fill="#fff" stroke="#999" stroke-width="1.6"/>
<text x="649.40" y="706.00" font-size="21" font-weight="bold" textLength="10.0" lengthAdjust="spacingAndGlyphs" fill="#ff8000">v</text>
<text x="659.70" y="716.20" font-size="22" font-weight="bold" textLength="30.6" lengthAdjust="spacing" fill="#111">jet</text>
<text x="673.2" y="649.8" font-size="32.5" font-weight="bold" textLength="74.2" lengthAdjust="spacingAndGlyphs">HOCl</text>
<text transform="translate(487.40,817.50) rotate(-90)" font-size="28" text-anchor="middle">concentration (µM)</text>
<text x="710.75" y="1059.50" font-size="26" font-weight="bold" text-anchor="middle" textLength="288.5" lengthAdjust="spacingAndGlyphs">plasma treatment (min)</text>
<line x1="999.20" y1="664.70" x2="999.20" y2="978.00" stroke="#000" stroke-width="3"/>
<line x1="989.20" y1="978.20" x2="1000.70" y2="978.20" stroke="#000" stroke-width="3"/>
<text x="985.50" y="985.00" font-size="25" font-weight="bold" text-anchor="end">0</text>
<line x1="989.20" y1="900.20" x2="1000.70" y2="900.20" stroke="#000" stroke-width="3"/>
<text x="985.50" y="907.00" font-size="25" font-weight="bold" text-anchor="end" textLength="25.9" lengthAdjust="spacingAndGlyphs">10</text>
<line x1="989.20" y1="822.20" x2="1000.70" y2="822.20" stroke="#000" stroke-width="3"/>
<text x="985.50" y="829.00" font-size="25" font-weight="bold" text-anchor="end" textLength="25.9" lengthAdjust="spacingAndGlyphs">20</text>
<line x1="989.20" y1="744.20" x2="1000.70" y2="744.20" stroke="#000" stroke-width="3"/>
<text x="985.50" y="751.00" font-size="25" font-weight="bold" text-anchor="end" textLength="25.9" lengthAdjust="spacingAndGlyphs">30</text>
<line x1="989.20" y1="666.20" x2="1000.70" y2="666.20" stroke="#000" stroke-width="3"/>
<text x="985.50" y="673.00" font-size="25" font-weight="bold" text-anchor="end" textLength="25.9" lengthAdjust="spacingAndGlyphs">40</text>
<line x1="989.50" y1="978.50" x2="1313.00" y2="978.50" stroke="#000" stroke-width="3"/>
<line x1="1031.25" y1="978.00" x2="1031.25" y2="987.00" stroke="#000" stroke-width="3"/>
<line x1="1076.25" y1="978.00" x2="1076.25" y2="987.00" stroke="#000" stroke-width="3"/>
<line x1="1115.00" y1="978.00" x2="1115.00" y2="987.00" stroke="#000" stroke-width="3"/>
<line x1="1153.25" y1="978.00" x2="1153.25" y2="987.00" stroke="#000" stroke-width="3"/>
<line x1="1200.00" y1="978.00" x2="1200.00" y2="987.00" stroke="#000" stroke-width="3"/>
<line x1="1240.00" y1="978.00" x2="1240.00" y2="987.00" stroke="#000" stroke-width="3"/>
<line x1="1278.25" y1="978.00" x2="1278.25" y2="987.00" stroke="#000" stroke-width="3"/>
<text x="1031.25" y="1012.00" font-size="25" font-weight="bold" text-anchor="middle">0</text>
<text x="1076.25" y="1012.00" font-size="25" font-weight="bold" text-anchor="middle">1</text>
<text x="1115.00" y="1012.00" font-size="25" font-weight="bold" text-anchor="middle">5</text>
<text x="1153.25" y="1012.00" font-size="25" font-weight="bold" text-anchor="middle" textLength="25.9" lengthAdjust="spacingAndGlyphs">10</text>
<text x="1200.00" y="1012.00" font-size="25" font-weight="bold" text-anchor="middle">1</text>
<text x="1240.00" y="1012.00" font-size="25" font-weight="bold" text-anchor="middle">5</text>
<text x="1278.25" y="1012.00" font-size="25" font-weight="bold" text-anchor="middle" textLength="25.9" lengthAdjust="spacingAndGlyphs">10</text>
<line x1="1029.90" y1="975.25" x2="1029.90" y2="972.50" stroke="#000" stroke-width="2.2"/>
<line x1="1026.40" y1="973.70" x2="1033.40" y2="973.70" stroke="#000" stroke-width="2.6"/>
<line x1="1076.25" y1="951.50" x2="1076.25" y2="948.80" stroke="#000" stroke-width="2.2"/>
<line x1="1072.75" y1="950.00" x2="1079.75" y2="950.00" stroke="#000" stroke-width="2.6"/>
<line x1="1115.50" y1="910.00" x2="1115.50" y2="907.30" stroke="#000" stroke-width="2.2"/>
<line x1="1112.00" y1="908.50" x2="1119.00" y2="908.50" stroke="#000" stroke-width="2.6"/>
<line x1="1154.60" y1="858.50" x2="1154.60" y2="855.80" stroke="#000" stroke-width="2.2"/>
<line x1="1151.10" y1="857.00" x2="1158.10" y2="857.00" stroke="#000" stroke-width="2.6"/>
<line x1="1200.90" y1="925.00" x2="1200.90" y2="922.30" stroke="#000" stroke-width="2.2"/>
<line x1="1197.40" y1="923.50" x2="1204.40" y2="923.50" stroke="#000" stroke-width="2.6"/>
<line x1="1240.40" y1="788.80" x2="1240.40" y2="786.00" stroke="#000" stroke-width="2.2"/>
<line x1="1236.90" y1="787.20" x2="1243.90" y2="787.20" stroke="#000" stroke-width="2.6"/>
<line x1="1279.00" y1="852.00" x2="1279.00" y2="848.50" stroke="#000" stroke-width="2.2"/>
<line x1="1275.50" y1="849.70" x2="1282.50" y2="849.70" stroke="#000" stroke-width="2.6"/>
<rect x="1015.90" y="975.75" width="28.00" height="2.25" fill="#000" stroke="#000" stroke-width="3"/>
<rect x="1062.25" y="952.00" width="28.00" height="26.00" fill="#8c8cff" stroke="#000" stroke-width="3"/>
<rect x="1101.50" y="910.50" width="28.00" height="67.50" fill="#5858fa" stroke="#000" stroke-width="3"/>
<rect x="1140.60" y="859.00" width="28.00" height="119.00" fill="#0000c2" stroke="#000" stroke-width="3"/>
<rect x="1186.90" y="925.50" width="28.00" height="52.50" fill="#ffa040" stroke="#000" stroke-width="3"/>
<rect x="1226.40" y="789.30" width="28.00" height="188.70" fill="#ff8000" stroke="#000" stroke-width="3"/>
<rect x="1265.00" y="852.50" width="28.00" height="125.50" fill="#ff6400" stroke="#000" stroke-width="3"/>
<line x1="1053.6" y1="664.60" x2="1053.6" y2="975" stroke="#000" stroke-width="2.4" stroke-dasharray="1.8 7.77"/>
<text x="1072.40" y="719.50" font-size="22" font-weight="bold" textLength="78.2" lengthAdjust="spacing" fill="#111">kINPen</text>
<line x1="1059.10" y1="731.80" x2="1163.80" y2="731.80" stroke="#000" stroke-width="2.2"/>
<text x="1216.80" y="706.90" font-size="21" font-weight="bold" textLength="10.4" lengthAdjust="spacingAndGlyphs" fill="#ff8000">v</text>
<text x="1227.00" y="716.80" font-size="22" font-weight="bold" textLength="30.9" lengthAdjust="spacing" fill="#111">jet</text>
<line x1="1190.50" y1="731.30" x2="1296.80" y2="731.30" stroke="#000" stroke-width="3"/>
<text x="1121.8" y="654.5" font-size="32" font-weight="bold"><tspan textLength="43.5" lengthAdjust="spacingAndGlyphs">NO</tspan><tspan font-size="23" font-weight="normal" dx="0.2" dy="-12.5">2</tspan><tspan font-size="23" font-weight="normal" dx="2">-</tspan></text>
<text x="1200.20" y="923.72" font-size="35.5" font-weight="bold" text-anchor="middle" fill="#a0a0ff">***</text>
<text x="1240.40" y="785.47" font-size="35.5" font-weight="bold" text-anchor="middle" fill="#6b6bff">***</text>
<text x="1278.40" y="849.47" font-size="35.5" font-weight="bold" text-anchor="middle" fill="#0000c8">**</text>
<text transform="translate(945.70,820.40) rotate(-90)" font-size="28" text-anchor="middle">concentration (µM)</text>
<text x="1155.00" y="1059.50" font-size="26" font-weight="bold" text-anchor="middle" textLength="288.0" lengthAdjust="spacingAndGlyphs">plasma treatment (min)</text>
<line x1="1456.50" y1="664.29" x2="1456.50" y2="978.00" stroke="#000" stroke-width="3"/>
<line x1="1446.50" y1="978.00" x2="1458.00" y2="978.00" stroke="#000" stroke-width="3"/>
<text x="1442.50" y="984.80" font-size="25" font-weight="bold" text-anchor="end">0</text>
<line x1="1446.50" y1="873.93" x2="1458.00" y2="873.93" stroke="#000" stroke-width="3"/>
<text x="1442.50" y="880.73" font-size="25" font-weight="bold" text-anchor="end" textLength="38.8" lengthAdjust="spacingAndGlyphs">100</text>
<line x1="1446.50" y1="769.86" x2="1458.00" y2="769.86" stroke="#000" stroke-width="3"/>
<text x="1442.50" y="776.66" font-size="25" font-weight="bold" text-anchor="end" textLength="38.8" lengthAdjust="spacingAndGlyphs">200</text>
<line x1="1446.50" y1="665.79" x2="1458.00" y2="665.79" stroke="#000" stroke-width="3"/>
<text x="1442.50" y="672.59" font-size="25" font-weight="bold" text-anchor="end" textLength="38.8" lengthAdjust="spacingAndGlyphs">300</text>
<line x1="1447.00" y1="978.50" x2="1770.00" y2="978.50" stroke="#000" stroke-width="3"/>
<line x1="1485.75" y1="978.00" x2="1485.75" y2="987.00" stroke="#000" stroke-width="3"/>
<line x1="1532.50" y1="978.00" x2="1532.50" y2="987.00" stroke="#000" stroke-width="3"/>
<line x1="1572.00" y1="978.00" x2="1572.00" y2="987.00" stroke="#000" stroke-width="3"/>
<line x1="1610.75" y1="978.00" x2="1610.75" y2="987.00" stroke="#000" stroke-width="3"/>
<line x1="1657.00" y1="978.00" x2="1657.00" y2="987.00" stroke="#000" stroke-width="3"/>
<line x1="1696.50" y1="978.00" x2="1696.50" y2="987.00" stroke="#000" stroke-width="3"/>
<line x1="1735.50" y1="978.00" x2="1735.50" y2="987.00" stroke="#000" stroke-width="3"/>
<text x="1485.75" y="1012.00" font-size="25" font-weight="bold" text-anchor="middle">0</text>
<text x="1532.50" y="1012.00" font-size="25" font-weight="bold" text-anchor="middle">1</text>
<text x="1572.00" y="1012.00" font-size="25" font-weight="bold" text-anchor="middle">5</text>
<text x="1610.75" y="1012.00" font-size="25" font-weight="bold" text-anchor="middle" textLength="25.9" lengthAdjust="spacingAndGlyphs">10</text>
<text x="1657.00" y="1012.00" font-size="25" font-weight="bold" text-anchor="middle">1</text>
<text x="1696.50" y="1012.00" font-size="25" font-weight="bold" text-anchor="middle">5</text>
<text x="1735.50" y="1012.00" font-size="25" font-weight="bold" text-anchor="middle" textLength="25.9" lengthAdjust="spacingAndGlyphs">10</text>
<line x1="1486.90" y1="974.75" x2="1486.90" y2="972.00" stroke="#000" stroke-width="2.2"/>
<line x1="1483.40" y1="973.20" x2="1490.40" y2="973.20" stroke="#000" stroke-width="2.6"/>
<line x1="1533.50" y1="961.50" x2="1533.50" y2="958.50" stroke="#000" stroke-width="2.2"/>
<line x1="1530.00" y1="959.70" x2="1537.00" y2="959.70" stroke="#000" stroke-width="2.6"/>
<line x1="1572.60" y1="933.00" x2="1572.60" y2="929.50" stroke="#000" stroke-width="2.2"/>
<line x1="1569.10" y1="930.70" x2="1576.10" y2="930.70" stroke="#000" stroke-width="2.6"/>
<line x1="1611.60" y1="906.50" x2="1611.60" y2="903.00" stroke="#000" stroke-width="2.2"/>
<line x1="1608.10" y1="904.20" x2="1615.10" y2="904.20" stroke="#000" stroke-width="2.6"/>
<line x1="1658.10" y1="956.50" x2="1658.10" y2="954.00" stroke="#000" stroke-width="2.2"/>
<line x1="1654.60" y1="955.20" x2="1661.60" y2="955.20" stroke="#000" stroke-width="2.6"/>
<line x1="1696.50" y1="883.50" x2="1696.50" y2="881.00" stroke="#000" stroke-width="2.2"/>
<line x1="1693.00" y1="882.20" x2="1700.00" y2="882.20" stroke="#000" stroke-width="2.6"/>
<line x1="1736.40" y1="754.00" x2="1736.40" y2="751.00" stroke="#000" stroke-width="2.2"/>
<line x1="1732.90" y1="752.20" x2="1739.90" y2="752.20" stroke="#000" stroke-width="2.6"/>
<rect x="1472.90" y="975.25" width="28.00" height="2.75" fill="#000" stroke="#000" stroke-width="3"/>
<rect x="1519.50" y="962.00" width="28.00" height="16.00" fill="#8c8cff" stroke="#000" stroke-width="3"/>
<rect x="1558.60" y="933.50" width="28.00" height="44.50" fill="#5858fa" stroke="#000" stroke-width="3"/>
<rect x="1597.60" y="907.00" width="28.00" height="71.00" fill="#0000c2" stroke="#000" stroke-width="3"/>
<rect x="1644.10" y="957.00" width="28.00" height="21.00" fill="#ffa040" stroke="#000" stroke-width="3"/>
<rect x="1682.50" y="884.00" width="28.00" height="94.00" fill="#ff8000" stroke="#000" stroke-width="3"/>
<rect x="1722.40" y="754.50" width="28.00" height="223.50" fill="#ff6400" stroke="#000" stroke-width="3"/>
<line x1="1510.5" y1="664.30" x2="1510.5" y2="975" stroke="#000" stroke-width="2.4" stroke-dasharray="1.8 7.77"/>
<text x="1526.10" y="706.00" font-size="22" font-weight="bold" textLength="77.2" lengthAdjust="spacing" fill="#111">kINPen</text>
<line x1="1513.30" y1="717.90" x2="1617.50" y2="717.90" stroke="#000" stroke-width="3"/>
<text x="1670.30" y="692.30" font-size="21" font-weight="bold" textLength="11.0" lengthAdjust="spacingAndGlyphs" fill="#ff8000">v</text>
<text x="1681.30" y="702.80" font-size="22" font-weight="bold" textLength="30.3" lengthAdjust="spacing" fill="#111">jet</text>
<line x1="1644.20" y1="716.00" x2="1750.70" y2="716.00" stroke="#000" stroke-width="3"/>
<text x="1577.8" y="654.5" font-size="32" font-weight="bold"><tspan textLength="43.5" lengthAdjust="spacingAndGlyphs">NO</tspan><tspan font-size="23" font-weight="normal" dx="1.4" dy="-12.5">3</tspan><tspan font-size="23" font-weight="normal" dx="2">-</tspan></text>
<text x="1657.00" y="951.22" font-size="35.5" font-weight="bold" text-anchor="middle" fill="#a0a0ff">*</text>
<text x="1696.30" y="883.47" font-size="35.5" font-weight="bold" text-anchor="middle" fill="#6b6bff">**</text>
<text x="1735.90" y="752.47" font-size="35.5" font-weight="bold" text-anchor="middle" fill="#0000c8">***</text>
<text transform="translate(1390.00,820.00) rotate(-90)" font-size="28" text-anchor="middle">concentration (µM)</text>
<text x="1611.25" y="1059.50" font-size="26" font-weight="bold" text-anchor="middle" textLength="288.0" lengthAdjust="spacingAndGlyphs">plasma treatment (min)</text>
</svg></body></html>
